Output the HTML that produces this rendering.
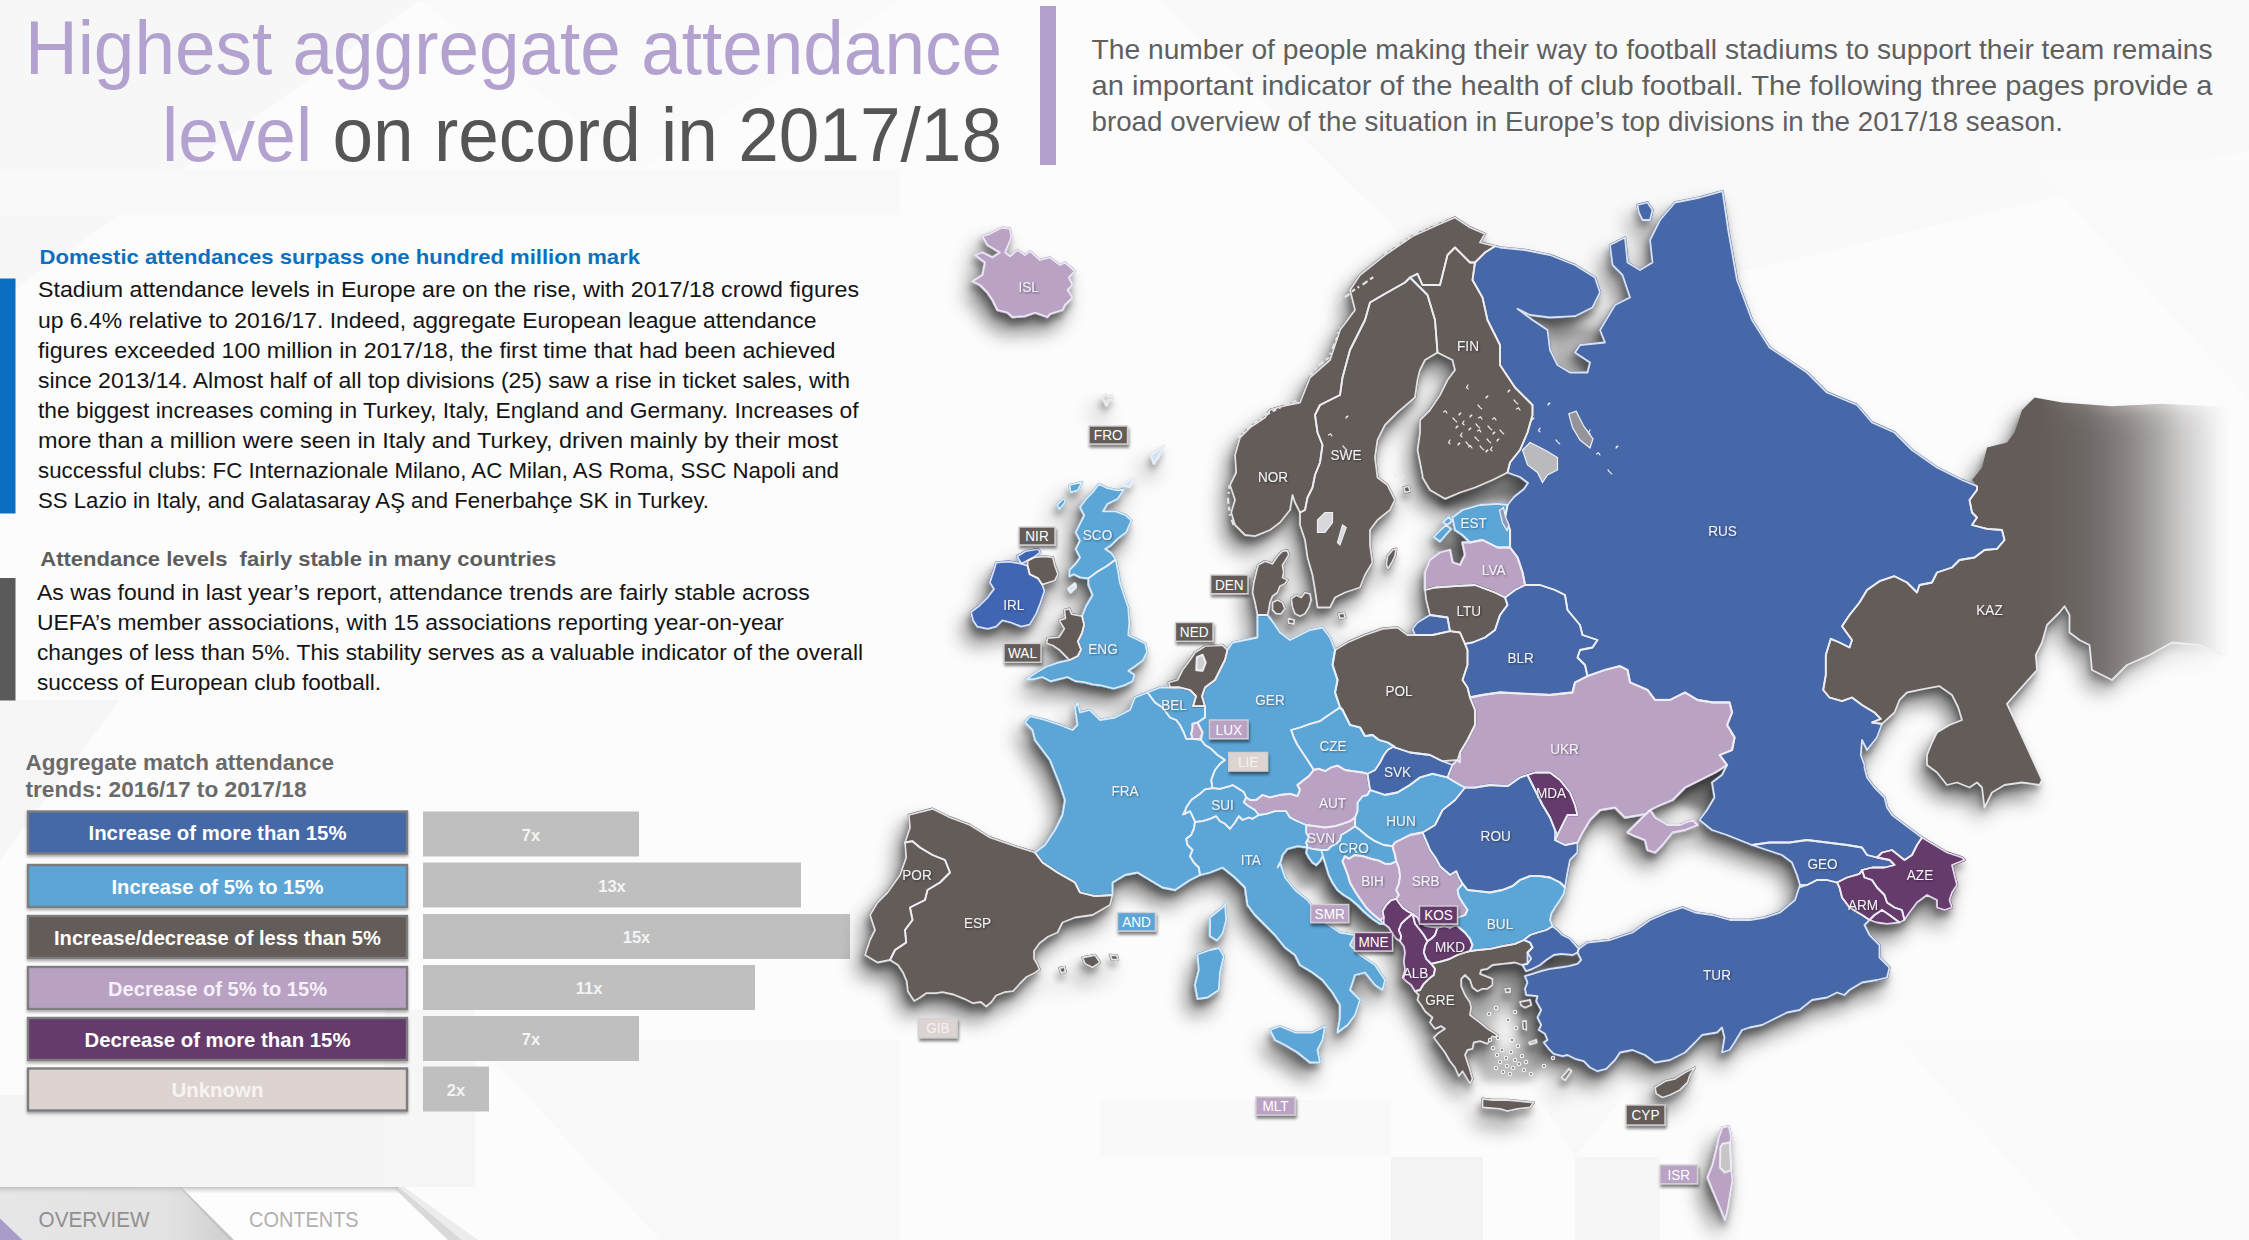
<!DOCTYPE html>
<html lang="en"><head><meta charset="utf-8">
<title>Highest aggregate attendance level on record in 2017/18</title>
<style>
html,body{margin:0;padding:0;background:#fcfcfc;}
body{width:2249px;height:1240px;overflow:hidden;}
svg{display:block;font-family:'Liberation Sans', 'DejaVu Sans', sans-serif;}
text{white-space:pre;}
</style></head><body>
<svg width="2249" height="1240" viewBox="0 0 2249 1240">
<defs>
<filter id="mapshadow" x="-5%" y="-5%" width="110%" height="112%">
  <feGaussianBlur in="SourceAlpha" stdDeviation="10"/>
  <feOffset dx="-8" dy="15"/>
  <feComponentTransfer result="wide"><feFuncA type="linear" slope="0.5"/></feComponentTransfer>
  <feGaussianBlur in="SourceAlpha" stdDeviation="3.5"/>
  <feOffset dx="-2" dy="6"/>
  <feComponentTransfer result="tight"><feFuncA type="linear" slope="0.36"/></feComponentTransfer>
  <feMerge><feMergeNode in="wide"/><feMergeNode in="tight"/><feMergeNode in="SourceGraphic"/></feMerge>
</filter>
<filter id="seablur" x="-30%" y="-30%" width="160%" height="160%"><feGaussianBlur stdDeviation="5"/></filter>
<filter id="seablur2" x="-60%" y="-60%" width="220%" height="220%"><feGaussianBlur stdDeviation="7"/></filter>
<filter id="lblshadow" x="-20%" y="-30%" width="140%" height="180%">
  <feGaussianBlur in="SourceAlpha" stdDeviation="1.6"/>
  <feOffset dx="1" dy="2.5"/>
  <feComponentTransfer><feFuncA type="linear" slope="0.5"/></feComponentTransfer>
  <feMerge><feMergeNode/><feMergeNode in="SourceGraphic"/></feMerge>
</filter>
<filter id="boxshadow" x="-5%" y="-20%" width="110%" height="150%">
  <feGaussianBlur in="SourceAlpha" stdDeviation="1.5"/>
  <feOffset dx="0" dy="1.5"/>
  <feComponentTransfer><feFuncA type="linear" slope="0.35"/></feComponentTransfer>
  <feMerge><feMergeNode/><feMergeNode in="SourceGraphic"/></feMerge>
</filter>
<filter id="txtsh" x="-10%" y="-30%" width="120%" height="170%">
  <feGaussianBlur in="SourceAlpha" stdDeviation="0.9"/>
  <feOffset dx="0.8" dy="1.2"/>
  <feComponentTransfer><feFuncA type="linear" slope="0.45"/></feComponentTransfer>
  <feMerge><feMergeNode/><feMergeNode in="SourceGraphic"/></feMerge>
</filter>
<linearGradient id="kazfade" gradientUnits="userSpaceOnUse" x1="2040" y1="0" x2="2228" y2="0">
  <stop offset="0" stop-color="#645c58" stop-opacity="1"/>
  <stop offset="0.25" stop-color="#696260" stop-opacity="0.84"/>
  <stop offset="0.5" stop-color="#706966" stop-opacity="0.52"/>
  <stop offset="0.75" stop-color="#76706d" stop-opacity="0.2"/>
  <stop offset="1" stop-color="#7a7370" stop-opacity="0"/>
</linearGradient>
<linearGradient id="tab1" x1="0" y1="0" x2="1" y2="0">
  <stop offset="0" stop-color="#e6e6e6"/><stop offset="0.72" stop-color="#e3e3e3"/><stop offset="1" stop-color="#cfcfcf"/>
</linearGradient>
<linearGradient id="tabtop" x1="0" y1="0" x2="0" y2="1">
  <stop offset="0" stop-color="#bdbdbd" stop-opacity="0.9"/><stop offset="1" stop-color="#d8d8d8" stop-opacity="0"/>
</linearGradient>
</defs>

<rect width="2249" height="1240" fill="#fcfcfc"/>
<polygon points="0,0 420,0 0,300" fill="#f7f7f8"/>
<polygon points="420,0 900,0 640,170" fill="#fafafb"/>
<polygon points="1160,0 2249,0 2249,150 1500,330" fill="#f9f9fa"/>
<polygon points="0,170 900,170 900,215 0,215" fill="#f9f9fa"/>
<polygon points="0,1095 385,1095 470,1187 0,1187" fill="#f4f4f5"/>
<polygon points="385,1010 475,1010 475,1187 385,1187" fill="#f6f6f7"/>
<polygon points="0,700 120,700 0,860" fill="#f6f6f7"/>
<polygon points="475,1040 900,1040 900,1240 660,1240" fill="#f9f9fa"/>
<polygon points="1391,1157 1483,1157 1483,1240 1391,1240" fill="#f3f3f4"/>
<polygon points="1575,1157 1660,1157 1660,1240 1575,1240" fill="#f6f6f7"/>
<polygon points="1100,1100 1391,1100 1391,1157 1100,1157" fill="#f9f9fa"/>
<polygon points="1900,1040 2249,1040 2249,1240 2080,1240" fill="#fafafb"/>
<polygon points="1480,1000 1700,1000 1575,1157" fill="#f9f9fa"/>
<polygon points="2030,160 2249,160 2249,400" fill="#fafafb"/>
<text x="1002" y="74" font-size="76.5" text-anchor="end" textLength="977" lengthAdjust="spacingAndGlyphs" fill="#b3a2cf">Highest aggregate attendance</text>
<text x="1002" y="161" font-size="76.5" text-anchor="end" textLength="840" lengthAdjust="spacingAndGlyphs" fill="#555555"><tspan fill="#b3a2cf">level</tspan> on record in 2017/18</text>
<rect x="1040" y="6" width="16" height="159" fill="#b29fcc"/>
<text x="1091.5" y="58.8" font-size="27.5" fill="#5f5f5f" font-weight="normal" text-anchor="start" textLength="1121.0" lengthAdjust="spacingAndGlyphs">The number of people making their way to football stadiums to support their team remains</text>
<text x="1091.5" y="95.0" font-size="27.5" fill="#5f5f5f" font-weight="normal" text-anchor="start" textLength="1121.0" lengthAdjust="spacingAndGlyphs">an important indicator of the health of club football. The following three pages provide a</text>
<text x="1091.5" y="131.2" font-size="27.5" fill="#5f5f5f" font-weight="normal" text-anchor="start" textLength="971.5" lengthAdjust="spacingAndGlyphs">broad overview of the situation in Europe’s top divisions in the 2017/18 season.</text>
<rect x="0" y="278.5" width="15.5" height="235" fill="#0a6fc0"/>
<rect x="0" y="578" width="15.5" height="122.5" fill="#5a5a5a"/>
<text x="39.5" y="263.5" font-size="20.5" fill="#0b70bf" font-weight="bold" text-anchor="start" textLength="600.5" lengthAdjust="spacingAndGlyphs">Domestic attendances surpass one hundred million mark</text>
<text x="38.0" y="297.4" font-size="21.8" fill="#141414" font-weight="normal" text-anchor="start" textLength="821.0" lengthAdjust="spacingAndGlyphs">Stadium attendance levels in Europe are on the rise, with 2017/18 crowd figures</text>
<text x="38.0" y="327.6" font-size="21.8" fill="#141414" font-weight="normal" text-anchor="start" textLength="778.5" lengthAdjust="spacingAndGlyphs">up 6.4% relative to 2016/17. Indeed, aggregate European league attendance</text>
<text x="38.0" y="357.6" font-size="21.8" fill="#141414" font-weight="normal" text-anchor="start" textLength="797.5" lengthAdjust="spacingAndGlyphs">figures exceeded 100 million in 2017/18, the first time that had been achieved</text>
<text x="38.0" y="387.7" font-size="21.8" fill="#141414" font-weight="normal" text-anchor="start" textLength="812.0" lengthAdjust="spacingAndGlyphs">since 2013/14. Almost half of all top divisions (25) saw a rise in ticket sales, with</text>
<text x="38.0" y="417.7" font-size="21.8" fill="#141414" font-weight="normal" text-anchor="start" textLength="820.5" lengthAdjust="spacingAndGlyphs">the biggest increases coming in Turkey, Italy, England and Germany. Increases of</text>
<text x="38.0" y="447.8" font-size="21.8" fill="#141414" font-weight="normal" text-anchor="start" textLength="800.0" lengthAdjust="spacingAndGlyphs">more than a million were seen in Italy and Turkey, driven mainly by their most</text>
<text x="38.0" y="477.8" font-size="21.8" fill="#141414" font-weight="normal" text-anchor="start" textLength="801.0" lengthAdjust="spacingAndGlyphs">successful clubs: FC Internazionale Milano, AC Milan, AS Roma, SSC Napoli and</text>
<text x="38.0" y="507.9" font-size="21.8" fill="#141414" font-weight="normal" text-anchor="start" textLength="671.0" lengthAdjust="spacingAndGlyphs">SS Lazio in Italy, and Galatasaray AŞ and Fenerbahçe SK in Turkey.</text>
<text x="40.3" y="566.0" font-size="20.5" fill="#5d5d5d" font-weight="bold" text-anchor="start" textLength="516.0" lengthAdjust="spacingAndGlyphs">Attendance levels  fairly stable in many countries</text>
<text x="37.0" y="599.8" font-size="21.8" fill="#141414" font-weight="normal" text-anchor="start" textLength="772.7" lengthAdjust="spacingAndGlyphs">As was found in last year’s report, attendance trends are fairly stable across</text>
<text x="37.0" y="629.8" font-size="21.8" fill="#141414" font-weight="normal" text-anchor="start" textLength="747.0" lengthAdjust="spacingAndGlyphs">UEFA’s member associations, with 15 associations reporting year-on-year</text>
<text x="37.0" y="659.9" font-size="21.8" fill="#141414" font-weight="normal" text-anchor="start" textLength="826.0" lengthAdjust="spacingAndGlyphs">changes of less than 5%. This stability serves as a valuable indicator of the overall</text>
<text x="37.0" y="689.9" font-size="21.8" fill="#141414" font-weight="normal" text-anchor="start" textLength="344.0" lengthAdjust="spacingAndGlyphs">success of European club football.</text>
<text x="25.5" y="769.9" font-size="22.5" fill="#6a6a6a" font-weight="bold" text-anchor="start" textLength="308.5" lengthAdjust="spacingAndGlyphs">Aggregate match attendance</text>
<text x="25.5" y="796.6" font-size="22.5" fill="#6a6a6a" font-weight="bold" text-anchor="start" textLength="281.0" lengthAdjust="spacingAndGlyphs">trends: 2016/17 to 2017/18</text>
<g filter="url(#boxshadow)">
<rect x="28" y="811.5" width="379" height="42" fill="#4567a7" stroke="#7d7d7d" stroke-width="2.4"/>
<rect x="28" y="865" width="379" height="42" fill="#5ba5d6" stroke="#7d7d7d" stroke-width="2.4"/>
<rect x="28" y="916" width="379" height="42" fill="#645c58" stroke="#7d7d7d" stroke-width="2.4"/>
<rect x="28" y="967" width="379" height="42" fill="#b9a1c4" stroke="#7d7d7d" stroke-width="2.4"/>
<rect x="28" y="1018" width="379" height="42" fill="#653a6c" stroke="#7d7d7d" stroke-width="2.4"/>
<rect x="28" y="1068.5" width="379" height="42" fill="#ddd4d2" stroke="#7d7d7d" stroke-width="2.4"/>
</g>
<text x="217.5" y="840.0" font-size="20.5" fill="#ffffff" font-weight="bold" text-anchor="middle" textLength="258.0" lengthAdjust="spacingAndGlyphs">Increase of more than 15%</text>
<text x="217.5" y="893.5" font-size="20.5" fill="#ffffff" font-weight="bold" text-anchor="middle" textLength="212.0" lengthAdjust="spacingAndGlyphs">Increase of 5% to 15%</text>
<text x="217.5" y="944.5" font-size="20.5" fill="#ffffff" font-weight="bold" text-anchor="middle" textLength="327.0" lengthAdjust="spacingAndGlyphs">Increase/decrease of less than 5%</text>
<text x="217.5" y="995.5" font-size="20.5" fill="#f6f0f8" font-weight="bold" text-anchor="middle" textLength="219.0" lengthAdjust="spacingAndGlyphs">Decrease of 5% to 15%</text>
<text x="217.5" y="1046.5" font-size="20.5" fill="#ffffff" font-weight="bold" text-anchor="middle" textLength="266.0" lengthAdjust="spacingAndGlyphs">Decrease of more than 15%</text>
<text x="217.5" y="1097.0" font-size="20.5" fill="#f7f3f2" font-weight="bold" text-anchor="middle" textLength="92.0" lengthAdjust="spacingAndGlyphs">Unknown</text>
<rect x="423" y="811.5" width="216" height="45" fill="#bfbfbf"/>
<text x="531.0" y="840.5" font-size="16.5" fill="#f4f4f4" font-weight="bold" text-anchor="middle">7x</text>
<rect x="423" y="862.5" width="378" height="45" fill="#bfbfbf"/>
<text x="612.0" y="891.5" font-size="16.5" fill="#f4f4f4" font-weight="bold" text-anchor="middle">13x</text>
<rect x="423" y="914" width="427" height="45" fill="#bfbfbf"/>
<text x="636.5" y="943.0" font-size="16.5" fill="#f4f4f4" font-weight="bold" text-anchor="middle">15x</text>
<rect x="423" y="965" width="332" height="45" fill="#bfbfbf"/>
<text x="589.0" y="994.0" font-size="16.5" fill="#f4f4f4" font-weight="bold" text-anchor="middle">11x</text>
<rect x="423" y="1016" width="216" height="45" fill="#bfbfbf"/>
<text x="531.0" y="1045.0" font-size="16.5" fill="#f4f4f4" font-weight="bold" text-anchor="middle">7x</text>
<rect x="423" y="1066.5" width="66" height="45" fill="#bfbfbf"/>
<text x="456.0" y="1095.5" font-size="16.5" fill="#f4f4f4" font-weight="bold" text-anchor="middle">2x</text>
<polygon points="181,1187 393,1187 448,1240 232,1240" fill="#fdfdfd"/>
<polygon points="393,1187 399,1187 462,1240 448,1240" fill="#d9d9d9"/>
<polygon points="399,1187 404,1187 478,1240 462,1240" fill="#ececec"/>
<polygon points="0,1187 179,1187 229,1240 0,1240" fill="url(#tab1)"/>
<polygon points="179,1187 181,1187 234,1240 229,1240" fill="#c4c4c4"/>
<rect x="0" y="1187" width="398" height="7" fill="url(#tabtop)"/>
<polygon points="0,1218.5 22.5,1240 0,1240" fill="#a99cc8"/>
<text x="38.6" y="1226.7" font-size="22" fill="#909090" font-weight="normal" text-anchor="start" textLength="111.0" lengthAdjust="spacingAndGlyphs">OVERVIEW</text>
<text x="249.0" y="1226.7" font-size="22" fill="#b0b0b0" font-weight="normal" text-anchor="start" textLength="109.6" lengthAdjust="spacingAndGlyphs">CONTENTS</text>
<g filter="url(#seablur)">
<polygon points="1470.0,964.0 1530.0,964.0 1544.0,1000.0 1548.0,1058.0 1530.0,1082.0 1482.0,1082.0 1470.0,1040.0" fill="#a8a8a8" fill-opacity="0.75"/>
<polygon points="1540.0,955.0 1585.0,950.0 1582.0,972.0 1545.0,976.0" fill="#8a8a8a" fill-opacity="0.9"/>
<polygon points="1655.0,772.0 1728.0,762.0 1712.0,815.0 1690.0,808.0 1655.0,795.0" fill="#8a8a8a" fill-opacity="0.85"/>
<polygon points="1435.0,497.0 1527.0,479.0 1524.0,498.0 1445.0,512.0" fill="#8a8a8a" fill-opacity="0.8"/>
<polygon points="1438.0,545.0 1468.0,538.0 1466.0,576.0 1444.0,574.0" fill="#909090" fill-opacity="0.85"/>
<polygon points="1282.0,850.0 1320.0,848.0 1326.0,882.0 1298.0,890.0" fill="#a2a2a2" fill-opacity="0.6"/>
<polygon points="1545.0,320.0 1600.0,330.0 1640.0,290.0 1625.0,345.0 1590.0,372.0 1555.0,372.0" fill="#a0a0a0" fill-opacity="0.7"/>
<polygon points="1328.0,880.0 1352.0,905.0 1384.0,935.0 1374.0,943.0 1342.0,918.0 1320.0,892.0" fill="#a8a8a8" fill-opacity="0.55"/>
</g>
<g filter="url(#seablur2)">
<ellipse cx="1507" cy="1030" rx="13" ry="24" fill="#fbfbfb"/>
</g>
<g id="map" filter="url(#mapshadow)">
<g stroke-linejoin="round">
<polygon points="1485.0,252.5 1495.0,246.2 1500.0,247.5 1525.0,250.0 1550.0,255.0 1575.0,265.0 1595.0,277.5 1600.0,292.5 1592.5,307.5 1575.0,316.2 1550.0,317.5 1530.0,315.0 1517.5,308.8 1532.5,320.0 1547.5,330.0 1550.0,350.0 1557.5,365.0 1570.0,372.5 1587.5,372.5 1590.0,362.5 1575.0,352.5 1580.0,345.0 1605.0,342.5 1600.0,330.0 1615.0,305.0 1630.0,297.5 1622.5,275.0 1612.5,265.0 1610.0,245.0 1625.0,237.5 1627.5,262.5 1640.0,270.0 1652.5,262.5 1650.0,240.0 1660.0,220.0 1675.0,202.5 1700.0,197.5 1722.5,191.2 1728.2,230.0 1737.0,280.0 1752.0,320.0 1769.5,347.5 1807.0,372.5 1827.0,392.5 1857.0,405.0 1872.0,422.5 1894.5,432.5 1912.0,450.0 1937.0,467.5 1962.0,480.0 1977.0,486.2 1977.0,490.0 1969.5,500.0 1972.0,512.5 1977.0,517.5 1972.0,525.0 1987.0,528.8 2002.0,530.0 2004.5,540.0 1997.0,548.8 1984.5,550.0 1974.5,557.5 1959.5,560.0 1952.0,567.5 1937.0,572.5 1932.0,582.5 1919.5,585.0 1917.0,592.5 1907.0,582.5 1894.5,576.2 1879.5,581.2 1867.0,590.0 1859.5,602.5 1849.5,615.0 1842.0,626.2 1852.0,640.0 1849.5,647.5 1839.5,642.5 1830.8,638.8 1825.8,655.0 1825.8,675.0 1823.2,690.0 1829.5,697.5 1842.0,701.2 1852.0,697.5 1862.0,705.0 1874.5,712.5 1880.8,718.8 1872.0,722.5 1882.0,723.8 1877.0,737.5 1867.0,750.0 1862.0,740.0 1860.8,755.0 1864.5,765.0 1864.5,767.5 1867.0,777.5 1874.5,787.5 1884.5,797.5 1887.0,807.5 1892.0,815.0 1902.0,822.5 1912.0,830.0 1922.0,837.5 1917.0,845.0 1912.0,855.0 1904.5,860.0 1892.0,850.0 1882.0,852.5 1877.0,857.5 1867.0,855.0 1862.0,847.5 1847.0,845.0 1827.0,842.5 1807.0,840.0 1789.5,842.5 1769.5,842.5 1752.0,845.0 1739.5,840.0 1727.0,835.0 1712.0,830.0 1699.5,820.0 1707.0,810.0 1714.5,797.5 1712.0,782.5 1722.0,775.0 1727.0,765.0 1719.5,755.0 1732.0,750.0 1734.5,737.5 1727.0,725.0 1732.0,712.5 1729.5,702.5 1712.5,702.5 1697.5,700.0 1685.0,692.5 1670.0,700.0 1655.0,700.0 1647.5,690.0 1630.0,682.5 1627.5,670.0 1620.0,666.2 1605.0,670.0 1587.5,676.2 1585.0,665.0 1577.5,657.5 1580.0,650.0 1592.5,647.5 1597.5,640.0 1582.5,635.0 1580.0,625.0 1567.5,610.0 1565.0,595.0 1555.0,590.0 1540.0,585.0 1525.0,585.0 1522.5,572.5 1517.5,557.5 1510.0,547.5 1510.0,545.0 1510.0,530.0 1505.0,517.5 1507.5,505.0 1514.0,497.0 1524.0,489.0 1528.0,483.0 1520.0,477.0 1507.5,472.5 1510.0,462.5 1520.0,450.0 1527.5,432.5 1532.5,415.0 1532.5,405.0 1515.0,387.5 1500.0,365.0 1500.0,345.0 1487.5,320.0 1482.5,297.5 1472.5,280.0 1475.0,262.5" fill="#4668a8" stroke="#4668a8" stroke-width="2.5"/>
<polygon points="1637.5,205.0 1647.5,202.5 1652.5,210.0 1650.0,220.0 1642.5,220.0 1638.8,212.5" fill="#4668a8" stroke="#4668a8" stroke-width="2.5"/>
<polygon points="1977.0,486.2 1977.0,490.0 1969.5,500.0 1972.0,512.5 1977.0,517.5 1972.0,525.0 1987.0,528.8 2002.0,530.0 2004.5,540.0 1997.0,548.8 1984.5,550.0 1974.5,557.5 1959.5,560.0 1952.0,567.5 1937.0,572.5 1932.0,582.5 1919.5,585.0 1917.0,592.5 1907.0,582.5 1894.5,576.2 1879.5,581.2 1867.0,590.0 1859.5,602.5 1849.5,615.0 1842.0,626.2 1852.0,640.0 1849.5,647.5 1839.5,642.5 1830.8,638.8 1825.8,655.0 1825.8,675.0 1823.2,690.0 1829.5,697.5 1842.0,701.2 1852.0,697.5 1862.0,705.0 1874.5,712.5 1880.8,718.8 1872.0,722.5 1882.0,723.8 1894.5,712.5 1899.5,700.0 1907.0,692.5 1924.5,688.8 1939.5,686.2 1952.0,695.0 1958.2,707.5 1962.0,720.0 1949.5,725.0 1937.0,732.5 1932.0,742.5 1927.0,755.0 1927.0,765.0 1937.0,772.5 1947.0,785.0 1957.0,782.5 1969.5,787.5 1977.0,782.5 1982.0,787.5 1984.5,807.5 1992.0,792.5 2004.5,785.0 2022.0,782.5 2039.5,785.0 2042.0,780.0 2007.0,703.8 2037.0,670.0 2035.8,655.0 2042.0,642.5 2047.0,625.0 2059.5,612.5 2064.5,606.2 2069.5,615.0 2069.5,632.5 2079.5,640.0 2089.5,645.0 2092.0,670.0 2112.0,680.0 2127.0,665.0 2149.5,655.0 2172.0,642.5 2199.5,645.0 2222.0,655.0 2249.0,665.0 2249.0,406.2 2212.0,406.2 2162.0,403.8 2112.0,406.2 2062.0,402.5 2034.5,397.5 2022.0,410.0 2014.5,432.5 2007.0,442.5 1987.0,447.5 1982.0,467.5 1972.0,480.0" fill="url(#kazfade)" stroke="none" stroke-width="2.5"/>
<polygon points="972.5,281.2 982.5,275.0 985.0,262.5 975.0,255.0 982.5,252.5 992.5,257.5 1000.0,252.5 987.5,245.0 982.5,236.2 990.0,233.8 1002.5,227.5 1010.0,228.8 1011.2,237.5 1005.0,252.5 1010.0,256.2 1017.5,250.0 1025.0,255.0 1030.0,251.2 1040.0,260.0 1050.0,257.5 1060.0,265.0 1065.0,262.5 1075.0,271.2 1068.8,277.5 1072.5,285.0 1067.5,290.0 1072.5,297.5 1065.0,305.0 1062.5,310.0 1050.0,313.8 1047.5,317.0 1035.0,312.5 1025.0,316.2 1012.5,317.0 1007.5,312.5 997.5,310.0 992.5,300.0 987.5,292.5 980.0,285.0" fill="#baa2c5" stroke="#baa2c5" stroke-width="2.5"/>
<polygon points="1300.0,512.5 1295.0,502.5 1292.5,495.0 1290.0,510.0 1280.0,522.5 1270.0,530.0 1255.0,536.2 1245.0,535.0 1235.0,525.0 1231.2,512.5 1235.0,500.0 1230.0,485.0 1236.2,472.5 1235.0,455.0 1240.0,437.5 1250.0,427.5 1265.0,417.5 1270.0,410.0 1287.5,405.0 1300.0,402.5 1310.0,377.5 1330.0,360.0 1340.0,330.0 1355.0,310.0 1350.0,290.0 1360.0,275.0 1385.0,255.0 1412.5,236.2 1437.5,225.0 1455.0,217.5 1470.0,227.5 1485.0,233.8 1480.0,242.5 1495.0,246.2 1485.0,252.5 1475.0,262.5 1470.0,262.5 1455.0,247.5 1447.5,255.0 1440.0,285.0 1422.5,285.0 1417.5,273.8 1410.0,277.5 1405.0,282.5 1385.0,293.8 1370.0,302.5 1365.0,320.0 1350.0,350.0 1342.5,377.5 1340.0,395.0 1320.0,405.0 1315.0,415.0 1317.5,432.5 1322.5,445.0 1320.0,462.5 1315.0,475.0 1312.5,487.5 1307.5,497.5 1305.0,510.0" fill="#645c58" stroke="#645c58" stroke-width="2.5"/>
<polygon points="1300.0,512.5 1305.0,510.0 1307.5,497.5 1312.5,487.5 1315.0,475.0 1320.0,462.5 1322.5,445.0 1317.5,432.5 1315.0,415.0 1320.0,405.0 1340.0,395.0 1342.5,377.5 1350.0,350.0 1365.0,320.0 1370.0,302.5 1385.0,293.8 1405.0,282.5 1410.0,277.5 1427.5,295.0 1435.0,320.0 1437.5,352.5 1425.0,360.0 1420.0,370.0 1417.5,380.0 1415.0,397.5 1397.5,412.5 1385.0,425.0 1377.5,440.0 1375.0,457.5 1377.5,477.5 1387.5,485.0 1395.0,500.0 1390.0,510.0 1377.5,520.0 1370.0,530.0 1370.0,545.0 1372.5,562.5 1365.0,575.0 1360.0,587.5 1345.0,592.5 1335.0,597.5 1330.0,607.5 1317.5,607.5 1315.0,590.0 1312.5,575.0 1307.5,557.5 1305.0,540.0 1300.0,525.0" fill="#645c58" stroke="#645c58" stroke-width="2.5"/>
<polygon points="1387.5,556.2 1392.5,550.0 1396.2,548.8 1395.0,556.2 1391.2,563.8 1388.1,568.8 1386.2,565.0" fill="#645c58" stroke="#645c58" stroke-width="2.5"/>
<polygon points="1437.5,352.5 1435.0,320.0 1427.5,295.0 1410.0,277.5 1417.5,273.8 1422.5,285.0 1440.0,285.0 1447.5,255.0 1455.0,247.5 1470.0,262.5 1475.0,262.5 1472.5,280.0 1482.5,297.5 1487.5,320.0 1500.0,345.0 1500.0,365.0 1515.0,387.5 1532.5,405.0 1532.5,415.0 1527.5,432.5 1520.0,450.0 1510.0,462.5 1507.5,472.5 1492.5,480.0 1475.0,487.5 1460.0,492.5 1445.0,498.8 1430.0,490.0 1422.5,477.5 1422.5,475.0 1417.5,450.0 1420.0,432.5 1420.0,420.0 1430.0,410.0 1440.0,395.0 1447.5,380.0 1455.0,370.0 1452.5,360.0" fill="#645c58" stroke="#645c58" stroke-width="2.5"/>
<polygon points="1403.8,487.5 1408.8,486.2 1410.0,491.2 1405.0,492.5" fill="#645c58" stroke="#645c58" stroke-width="2.5"/>
<polygon points="1452.5,517.5 1462.5,510.0 1480.0,505.0 1497.5,503.8 1507.5,505.0 1505.0,517.5 1510.0,530.0 1510.0,545.0 1510.0,547.5 1497.5,547.5 1482.5,540.0 1470.0,542.5 1462.5,535.0 1455.0,530.0" fill="#5ba6d7" stroke="#5ba6d7" stroke-width="2.5"/>
<polygon points="1433.8,537.0 1440.5,530.0 1446.0,525.0 1451.0,529.0 1446.0,534.5 1440.0,541.5" fill="#5ba6d7" stroke="#5ba6d7" stroke-width="2.5"/>
<polygon points="1443.0,522.0 1449.0,517.0 1452.0,521.0 1447.0,525.0" fill="#5ba6d7" stroke="#5ba6d7" stroke-width="2.5"/>
<polygon points="1425.0,572.5 1430.0,560.0 1440.0,552.5 1450.0,550.0 1452.5,562.5 1460.0,565.0 1465.0,555.0 1462.5,542.5 1470.0,542.5 1482.5,540.0 1497.5,547.5 1510.0,547.5 1517.5,557.5 1522.5,572.5 1525.0,585.0 1515.0,590.0 1505.0,597.5 1495.0,592.5 1475.0,585.0 1455.0,586.2 1435.0,587.5 1425.0,590.0" fill="#baa2c5" stroke="#baa2c5" stroke-width="2.5"/>
<polygon points="1425.0,590.0 1435.0,587.5 1455.0,586.2 1475.0,585.0 1495.0,592.5 1505.0,597.5 1507.5,605.0 1500.0,615.0 1495.0,630.0 1485.0,637.5 1472.5,642.5 1465.0,643.8 1460.0,632.5 1450.0,631.2 1447.5,617.5 1430.0,615.0 1426.2,600.0" fill="#645c58" stroke="#645c58" stroke-width="2.5"/>
<polygon points="1412.5,628.8 1417.5,622.5 1430.0,615.0 1447.5,617.5 1450.0,631.2 1432.5,635.0 1415.0,635.0" fill="#4668a8" stroke="#4668a8" stroke-width="2.5"/>
<polygon points="1525.0,585.0 1540.0,585.0 1555.0,590.0 1565.0,595.0 1567.5,610.0 1580.0,625.0 1582.5,635.0 1597.5,640.0 1592.5,647.5 1580.0,650.0 1577.5,657.5 1585.0,665.0 1587.5,676.2 1575.0,682.5 1572.5,692.5 1550.0,695.0 1525.0,693.8 1500.0,692.5 1482.5,695.0 1470.0,697.5 1467.5,687.5 1462.5,680.0 1467.5,665.0 1467.5,650.0 1465.0,643.8 1472.5,642.5 1485.0,637.5 1495.0,630.0 1500.0,615.0 1507.5,605.0 1505.0,597.5 1515.0,590.0" fill="#4668a8" stroke="#4668a8" stroke-width="2.5"/>
<polygon points="1470.0,697.5 1482.5,695.0 1500.0,692.5 1525.0,693.8 1550.0,695.0 1572.5,692.5 1575.0,682.5 1587.5,676.2 1605.0,670.0 1620.0,666.2 1627.5,670.0 1630.0,682.5 1647.5,690.0 1655.0,700.0 1670.0,700.0 1685.0,692.5 1697.5,700.0 1712.5,702.5 1729.5,702.5 1732.0,712.5 1727.0,725.0 1734.5,737.5 1732.0,750.0 1719.5,755.0 1727.0,765.0 1715.0,772.5 1700.0,780.0 1685.0,787.5 1672.5,800.0 1660.0,805.0 1650.0,810.0 1646.2,813.8 1640.0,815.0 1625.0,817.5 1615.0,807.5 1600.0,810.0 1590.0,820.0 1582.5,832.5 1577.5,842.5 1565.0,845.0 1555.0,840.0 1557.5,835.0 1562.5,825.0 1567.5,815.0 1577.5,815.0 1575.0,805.0 1570.0,792.5 1560.0,780.0 1550.0,772.5 1535.0,772.5 1527.5,775.0 1520.0,777.5 1507.5,786.2 1490.0,785.0 1475.0,787.5 1465.0,787.5 1460.0,785.0 1447.5,777.5 1452.5,765.0 1457.5,760.0 1460.0,762.5 1460.0,752.5 1467.5,740.0 1475.0,725.0 1475.0,710.0" fill="#baa2c5" stroke="#baa2c5" stroke-width="2.5"/>
<polygon points="1646.2,813.8 1650.0,810.0 1655.0,817.5 1667.5,825.0 1680.0,825.0 1692.5,820.0 1697.5,825.0 1685.0,830.0 1672.5,832.5 1662.5,845.0 1655.0,852.5 1647.5,850.0 1645.0,840.0 1635.0,836.2 1627.5,832.5 1640.0,820.0" fill="#baa2c5" stroke="#baa2c5" stroke-width="2.5"/>
<polygon points="1527.5,775.0 1535.0,772.5 1550.0,772.5 1560.0,780.0 1570.0,792.5 1575.0,805.0 1577.5,815.0 1567.5,815.0 1562.5,825.0 1557.5,835.0 1555.0,840.0 1555.0,830.0 1550.0,817.5 1542.5,805.0 1535.0,790.0" fill="#653a6c" stroke="#653a6c" stroke-width="2.5"/>
<polygon points="1335.0,650.0 1347.5,642.5 1365.0,635.0 1382.5,628.8 1397.5,627.5 1407.5,635.0 1415.0,635.0 1432.5,635.0 1450.0,631.2 1460.0,632.5 1465.0,643.8 1467.5,650.0 1467.5,665.0 1462.5,680.0 1467.5,687.5 1470.0,697.5 1475.0,710.0 1475.0,725.0 1467.5,740.0 1460.0,752.5 1457.5,760.0 1442.5,761.2 1430.0,755.0 1410.0,752.5 1395.0,747.5 1393.8,746.2 1387.5,742.5 1378.8,740.0 1372.5,735.0 1365.0,736.2 1360.0,727.5 1350.0,725.0 1347.5,720.0 1342.5,710.0 1340.0,707.5 1335.0,692.5 1337.5,680.0 1332.5,665.0" fill="#645c58" stroke="#645c58" stroke-width="2.5"/>
<polygon points="1227.5,650.0 1232.5,642.5 1245.0,640.0 1257.5,637.5 1257.5,615.0 1267.5,615.0 1275.0,625.0 1280.0,632.5 1290.0,640.0 1300.0,635.0 1310.0,630.0 1322.5,627.5 1330.0,637.5 1335.0,650.0 1332.5,665.0 1337.5,680.0 1335.0,692.5 1340.0,707.5 1342.5,710.0 1340.0,707.5 1325.0,717.5 1320.0,721.2 1310.0,723.8 1300.0,727.5 1291.2,730.0 1293.8,737.5 1297.5,745.0 1302.5,752.5 1307.5,760.0 1313.8,770.0 1308.8,776.2 1303.8,780.0 1297.5,785.0 1300.0,790.0 1297.5,796.2 1290.0,793.8 1280.0,795.0 1270.0,797.5 1262.5,795.0 1256.2,800.0 1250.0,800.0 1246.2,797.5 1243.8,791.9 1237.5,788.1 1232.5,785.0 1230.0,786.2 1220.0,788.8 1212.5,788.1 1211.2,780.0 1215.0,770.0 1220.0,763.8 1225.0,760.0 1217.5,755.0 1211.2,748.8 1205.0,745.0 1201.2,740.0 1202.5,732.5 1200.0,727.5 1197.5,722.5 1205.0,717.5 1205.0,706.2 1202.0,696.2 1205.0,687.5 1215.0,680.0 1220.0,670.0 1225.0,660.0" fill="#5ba6d7" stroke="#5ba6d7" stroke-width="2.5"/>
<polygon points="1291.2,730.0 1300.0,727.5 1310.0,723.8 1320.0,721.2 1325.0,717.5 1340.0,707.5 1342.5,710.0 1347.5,720.0 1350.0,725.0 1360.0,727.5 1365.0,736.2 1372.5,735.0 1378.8,740.0 1387.5,742.5 1393.8,746.2 1395.0,747.5 1393.8,746.2 1387.5,750.0 1383.8,755.0 1380.0,762.5 1375.0,770.0 1367.5,773.8 1362.5,772.5 1352.5,771.2 1345.0,770.0 1337.5,765.6 1331.2,767.5 1325.0,771.2 1318.8,768.8 1313.8,770.0 1307.5,760.0 1302.5,752.5 1297.5,745.0 1293.8,737.5" fill="#5ba6d7" stroke="#5ba6d7" stroke-width="2.5"/>
<polygon points="1246.2,797.5 1250.0,800.0 1256.2,800.0 1262.5,795.0 1270.0,797.5 1280.0,795.0 1290.0,793.8 1297.5,796.2 1300.0,790.0 1297.5,785.0 1303.8,780.0 1308.8,776.2 1313.8,770.0 1318.8,768.8 1325.0,771.2 1331.2,767.5 1337.5,765.6 1345.0,770.0 1352.5,771.2 1362.5,772.5 1367.5,773.8 1368.8,782.5 1370.0,790.0 1367.5,795.0 1362.5,796.2 1357.5,802.5 1357.5,811.2 1355.0,817.5 1350.0,821.2 1342.5,823.8 1335.0,826.2 1325.0,827.5 1315.0,826.2 1306.2,825.0 1297.5,821.2 1290.0,817.5 1286.2,811.2 1275.0,811.2 1266.2,813.8 1258.8,815.0 1255.0,810.0 1248.8,806.2 1243.8,802.5" fill="#baa2c5" stroke="#baa2c5" stroke-width="2.5"/>
<polygon points="1183.1,814.4 1186.2,807.5 1191.2,800.0 1200.0,793.8 1205.0,789.4 1212.5,788.1 1220.0,788.8 1230.0,786.2 1232.5,785.0 1237.5,788.1 1243.8,791.9 1246.2,797.5 1243.8,802.5 1248.8,806.2 1255.0,810.0 1258.8,815.0 1252.5,818.8 1248.8,817.5 1242.5,820.0 1238.8,816.2 1235.0,822.5 1230.0,828.8 1225.0,823.8 1220.0,821.2 1216.2,816.2 1210.0,818.8 1202.5,821.2 1195.0,821.9 1192.5,816.2 1190.0,811.2 1185.0,813.8" fill="#5ba6d7" stroke="#5ba6d7" stroke-width="2.5"/>
<polygon points="1395.0,747.5 1410.0,752.5 1430.0,755.0 1442.5,761.2 1452.5,765.0 1447.5,777.5 1432.5,773.8 1420.0,777.5 1410.0,785.0 1397.5,792.5 1385.0,795.0 1370.0,790.0 1368.8,782.5 1367.5,773.8 1375.0,770.0 1380.0,762.5 1383.8,755.0 1387.5,750.0 1393.8,746.2" fill="#4668a8" stroke="#4668a8" stroke-width="2.5"/>
<polygon points="1370.0,790.0 1385.0,795.0 1397.5,792.5 1410.0,785.0 1420.0,777.5 1432.5,773.8 1447.5,777.5 1460.0,785.0 1465.0,787.5 1455.0,800.0 1442.5,810.0 1435.0,825.0 1422.5,832.5 1410.0,835.0 1395.0,842.5 1392.5,846.2 1383.8,845.0 1375.0,841.2 1367.5,836.2 1360.0,830.0 1355.0,826.2 1355.0,817.5 1357.5,811.2 1357.5,802.5 1362.5,796.2 1367.5,795.0" fill="#5ba6d7" stroke="#5ba6d7" stroke-width="2.5"/>
<polygon points="1306.2,825.0 1315.0,826.2 1325.0,827.5 1335.0,826.2 1342.5,823.8 1350.0,821.2 1355.0,817.5 1355.0,826.2 1347.5,831.2 1341.2,835.0 1340.0,840.0 1336.2,843.8 1331.2,846.2 1327.5,850.0 1321.2,850.0 1312.5,848.8 1307.5,847.5 1306.2,842.5 1308.8,837.5 1306.2,832.5" fill="#baa2c5" stroke="#baa2c5" stroke-width="2.5"/>
<polygon points="1355.0,826.2 1360.0,830.0 1367.5,836.2 1375.0,841.2 1383.8,845.0 1392.5,846.2 1395.0,855.0 1396.2,861.2 1391.2,863.8 1385.0,863.8 1378.8,860.6 1371.2,858.8 1362.5,856.2 1355.0,855.0 1348.8,858.8 1345.0,856.2 1342.5,861.2 1345.0,867.5 1347.5,873.8 1350.0,882.5 1355.0,891.2 1360.0,898.8 1366.2,907.5 1372.5,913.8 1380.0,920.0 1383.8,923.8 1380.0,923.8 1372.5,918.8 1365.0,912.5 1357.5,905.0 1350.0,898.8 1343.8,895.0 1337.5,890.0 1332.5,882.5 1328.8,875.0 1326.2,866.2 1323.8,858.8 1321.2,850.0 1325.0,862.5 1322.5,856.2 1320.0,861.2 1316.2,865.0 1312.5,862.5 1308.8,857.5 1306.2,852.5 1307.5,847.5 1312.5,848.8 1321.2,850.0 1327.5,850.0 1331.2,846.2 1336.2,843.8 1340.0,840.0 1341.2,835.0 1347.5,831.2" fill="#5ba6d7" stroke="#5ba6d7" stroke-width="2.5"/>
<polygon points="1342.5,861.2 1345.0,856.2 1348.8,858.8 1355.0,855.0 1362.5,856.2 1371.2,858.8 1378.8,860.6 1385.0,863.8 1391.2,863.8 1396.2,861.2 1398.8,867.5 1400.0,876.2 1398.8,883.8 1396.2,890.0 1398.8,895.0 1396.2,898.8 1391.2,900.0 1386.2,905.0 1382.5,911.2 1383.8,917.5 1380.0,920.0 1372.5,913.8 1366.2,907.5 1360.0,898.8 1355.0,891.2 1350.0,882.5 1347.5,873.8 1345.0,867.5" fill="#baa2c5" stroke="#baa2c5" stroke-width="2.5"/>
<polygon points="1392.5,846.2 1395.0,842.5 1410.0,835.0 1422.5,832.5 1427.5,843.8 1430.0,850.0 1436.2,858.8 1440.0,866.2 1450.0,875.0 1456.2,871.2 1458.8,877.5 1462.5,883.8 1457.5,890.0 1458.8,896.2 1462.5,902.5 1467.5,910.0 1465.0,915.0 1457.5,917.5 1456.2,925.0 1450.0,927.5 1443.8,926.2 1437.5,927.5 1426.2,926.2 1420.0,922.5 1417.5,917.5 1412.5,913.8 1407.5,911.2 1402.5,907.5 1398.8,902.5 1396.2,898.8 1398.8,895.0 1396.2,890.0 1398.8,883.8 1400.0,876.2 1398.8,867.5 1396.2,861.2 1395.0,855.0" fill="#baa2c5" stroke="#baa2c5" stroke-width="2.5"/>
<polygon points="1382.5,911.2 1386.2,905.0 1391.2,900.0 1396.2,898.8 1398.8,902.5 1402.5,907.5 1407.5,911.2 1412.5,913.8 1405.0,920.0 1401.2,923.8 1398.8,930.0 1401.2,936.2 1400.0,941.2 1396.2,938.8 1392.5,933.8 1388.8,927.5 1383.8,923.8 1383.8,917.5" fill="#653a6c" stroke="#653a6c" stroke-width="2.5"/>
<polygon points="1412.5,913.8 1417.5,917.5 1420.0,922.5 1426.2,926.2 1437.5,927.5 1443.8,926.2 1437.5,927.5 1435.0,935.0 1431.2,938.8 1427.5,941.2 1423.8,935.0 1420.0,930.0 1415.0,923.8" fill="#653a6c" stroke="#653a6c" stroke-width="2.5"/>
<polygon points="1400.0,941.2 1401.2,936.2 1398.8,930.0 1401.2,923.8 1405.0,920.0 1412.5,913.8 1415.0,923.8 1420.0,930.0 1423.8,935.0 1427.5,941.2 1425.0,946.2 1423.8,952.5 1426.2,958.8 1431.2,963.8 1435.0,968.8 1433.8,975.0 1428.8,978.8 1423.8,983.8 1420.0,990.0 1415.0,991.2 1411.2,985.0 1406.2,981.2 1402.5,977.5 1405.0,970.0 1403.8,961.2 1405.0,952.5 1403.8,946.2" fill="#653a6c" stroke="#653a6c" stroke-width="2.5"/>
<polygon points="1427.5,941.2 1431.2,938.8 1435.0,935.0 1437.5,927.5 1443.8,926.2 1450.0,927.5 1456.2,925.0 1465.0,932.5 1470.0,938.8 1472.5,945.0 1470.0,951.2 1465.0,952.5 1457.5,955.0 1450.0,958.8 1442.5,961.2 1431.2,963.8 1426.2,958.8 1423.8,952.5 1425.0,946.2" fill="#653a6c" stroke="#653a6c" stroke-width="2.5"/>
<polygon points="1465.0,787.5 1475.0,787.5 1490.0,785.0 1507.5,786.2 1520.0,777.5 1527.5,775.0 1535.0,790.0 1542.5,805.0 1550.0,817.5 1555.0,830.0 1557.5,835.0 1555.0,840.0 1565.0,845.0 1577.5,842.5 1577.5,852.5 1570.0,860.0 1567.5,872.5 1565.0,887.5 1560.0,882.5 1550.0,877.5 1540.0,876.2 1530.0,876.2 1520.0,880.0 1512.5,886.2 1502.5,890.0 1490.0,892.5 1477.5,891.2 1467.5,890.0 1462.5,883.8 1458.8,877.5 1456.2,871.2 1450.0,875.0 1440.0,866.2 1436.2,858.8 1430.0,850.0 1427.5,843.8 1422.5,832.5 1435.0,825.0 1442.5,810.0 1455.0,800.0" fill="#4668a8" stroke="#4668a8" stroke-width="2.5"/>
<polygon points="1462.5,883.8 1467.5,890.0 1477.5,891.2 1490.0,892.5 1502.5,890.0 1512.5,886.2 1520.0,880.0 1530.0,876.2 1540.0,876.2 1550.0,877.5 1560.0,882.5 1565.0,887.5 1563.8,893.8 1560.0,900.0 1555.0,907.5 1551.2,913.8 1550.0,920.0 1552.5,926.2 1546.2,930.0 1537.5,932.5 1530.0,935.0 1523.8,940.0 1515.0,943.8 1502.5,946.2 1490.0,948.8 1477.5,950.0 1470.0,951.2 1472.5,945.0 1470.0,938.8 1465.0,932.5 1456.2,925.0 1450.0,927.5 1456.2,925.0 1457.5,917.5 1465.0,915.0 1467.5,910.0 1462.5,902.5 1458.8,896.2 1457.5,890.0" fill="#5ba6d7" stroke="#5ba6d7" stroke-width="2.5"/>
<polygon points="1431.2,963.8 1442.5,961.2 1450.0,958.8 1457.5,955.0 1465.0,952.5 1470.0,951.2 1477.5,950.0 1490.0,948.8 1502.5,946.2 1515.0,943.8 1523.8,940.0 1530.0,942.5 1532.5,947.5 1527.5,952.5 1531.2,958.8 1527.5,963.8 1522.5,965.0 1515.0,962.5 1502.5,963.8 1492.5,965.0 1487.5,968.8 1481.2,970.0 1480.0,973.8 1492.5,978.8 1492.5,985.0 1487.5,988.8 1482.5,988.8 1477.5,991.2 1472.5,987.5 1470.0,980.0 1465.0,975.0 1461.2,978.8 1461.2,986.2 1465.0,995.0 1470.0,1002.5 1471.2,1007.5 1470.0,1015.0 1480.0,1022.5 1487.5,1028.8 1497.5,1035.0 1495.0,1037.5 1492.5,1036.2 1490.0,1040.0 1487.5,1043.8 1480.0,1041.2 1473.8,1042.5 1472.5,1048.8 1467.5,1050.0 1465.0,1055.0 1467.5,1062.5 1470.0,1070.0 1472.5,1078.8 1470.0,1083.8 1466.2,1077.5 1462.5,1071.2 1458.8,1076.2 1455.0,1067.5 1450.0,1061.2 1445.0,1052.5 1437.5,1042.5 1433.8,1037.5 1437.5,1033.8 1445.0,1028.8 1441.2,1026.2 1435.0,1028.8 1430.0,1022.5 1432.5,1017.5 1425.0,1011.2 1421.2,1005.0 1417.5,1000.0 1418.8,995.0 1415.0,991.2 1420.0,990.0 1423.8,983.8 1428.8,978.8 1433.8,975.0 1435.0,968.8" fill="#645c58" stroke="#645c58" stroke-width="2.5"/>
<polygon points="1482.5,1098.8 1492.5,1100.0 1507.5,1100.0 1520.0,1101.2 1533.8,1102.5 1530.0,1107.5 1517.5,1108.8 1507.5,1111.2 1500.0,1108.8 1482.5,1107.5" fill="#645c58" stroke="#645c58" stroke-width="2.5"/>
<polygon points="1520.0,1001.9 1530.0,1000.0 1531.2,1005.0 1525.0,1007.8 1521.0,1005.2" fill="#645c58" stroke="#645c58" stroke-width="2.5"/>
<polygon points="1522.5,1021.2 1526.2,1021.0 1526.5,1030.0 1523.2,1029.0" fill="#645c58" stroke="#645c58" stroke-width="2.5"/>
<polygon points="1529.0,1042.5 1536.0,1040.0 1536.5,1042.5 1530.0,1044.4" fill="#8f8a88" stroke="#8f8a88" stroke-width="2.5"/>
<polygon points="1505.0,988.8 1510.0,988.1 1510.2,992.0 1505.8,992.5" fill="#645c58" stroke="#645c58" stroke-width="2.5"/>
<polygon points="1561.2,1077.8 1568.8,1069.0 1571.5,1071.2 1565.2,1080.2" fill="#8f8a88" stroke="#8f8a88" stroke-width="2.5"/>
<polygon points="1523.8,940.0 1530.0,935.0 1537.5,932.5 1546.2,930.0 1552.5,926.2 1557.5,930.0 1562.5,935.0 1570.0,938.8 1578.8,948.8 1577.5,952.5 1572.5,955.0 1561.2,953.8 1553.8,955.0 1546.2,960.0 1540.0,965.0 1532.5,968.8 1526.2,971.2 1522.5,965.0 1527.5,963.8 1527.5,952.5 1532.5,947.5 1530.0,942.5" fill="#4668a8" stroke="#4668a8" stroke-width="2.5"/>
<polygon points="1578.8,948.8 1587.5,942.5 1610.0,940.0 1632.5,932.5 1650.0,920.0 1667.5,912.5 1682.5,907.5 1695.0,912.5 1712.5,915.0 1730.0,920.0 1750.0,920.0 1765.0,917.5 1780.0,912.5 1795.0,900.0 1800.0,885.0 1799.5,887.5 1807.0,885.0 1817.0,880.0 1827.0,880.0 1837.0,882.5 1839.5,887.5 1842.0,897.5 1849.5,907.5 1862.0,915.0 1869.5,920.0 1864.5,925.0 1869.5,935.0 1879.5,945.0 1879.5,957.5 1889.5,967.5 1887.0,977.5 1877.0,980.0 1862.0,982.5 1849.5,990.0 1844.5,995.0 1837.0,992.5 1827.0,997.5 1812.0,1000.0 1799.5,1010.0 1787.0,1012.5 1777.0,1017.5 1762.0,1025.0 1749.5,1027.5 1742.0,1030.0 1734.5,1042.5 1729.5,1050.0 1722.0,1052.5 1724.5,1037.5 1722.0,1027.5 1717.0,1032.5 1702.0,1035.0 1695.0,1042.5 1685.0,1052.5 1670.0,1060.0 1655.0,1062.5 1645.0,1055.0 1632.5,1050.0 1620.0,1052.5 1615.0,1060.0 1606.2,1068.8 1597.5,1071.2 1590.0,1067.5 1583.8,1061.2 1575.0,1058.8 1567.5,1055.0 1562.5,1056.2 1553.8,1053.8 1548.8,1048.8 1543.8,1042.5 1547.5,1040.0 1545.0,1033.8 1538.8,1030.0 1541.2,1025.0 1537.5,1017.5 1541.2,1010.0 1536.2,1001.2 1537.5,996.2 1526.2,995.0 1525.0,988.8 1527.5,982.5 1525.0,976.2 1532.5,973.8 1541.2,971.2 1550.0,968.8 1560.0,967.5 1568.8,966.2 1577.5,963.8 1581.2,960.0 1577.5,952.5" fill="#4668a8" stroke="#4668a8" stroke-width="2.5"/>
<polygon points="1752.0,845.0 1769.5,842.5 1789.5,842.5 1807.0,840.0 1827.0,842.5 1847.0,845.0 1862.0,847.5 1867.0,855.0 1877.0,857.5 1889.5,860.0 1894.5,865.0 1884.5,867.5 1872.0,867.5 1862.0,870.0 1859.5,873.8 1847.0,877.5 1837.0,882.5 1827.0,880.0 1817.0,880.0 1807.0,885.0 1800.0,885.0 1797.0,875.0 1792.0,862.5 1782.0,855.0 1767.0,850.0" fill="#4668a8" stroke="#4668a8" stroke-width="2.5"/>
<polygon points="1877.0,857.5 1882.0,852.5 1892.0,850.0 1904.5,860.0 1912.0,855.0 1917.0,845.0 1922.0,837.5 1934.5,845.0 1947.0,852.5 1962.0,857.5 1964.5,860.0 1952.0,865.0 1954.5,875.0 1957.0,885.0 1952.0,892.5 1949.5,900.0 1952.0,907.5 1944.5,910.0 1937.0,907.5 1937.0,900.0 1927.0,895.0 1917.0,902.5 1909.5,912.5 1904.5,920.0 1902.0,910.0 1894.5,907.5 1887.0,902.5 1884.5,895.0 1877.0,887.5 1872.0,880.0 1864.5,877.5 1862.0,870.0 1872.0,867.5 1884.5,867.5 1894.5,865.0 1889.5,860.0" fill="#653a6c" stroke="#653a6c" stroke-width="2.5"/>
<polygon points="1869.5,920.0 1874.5,915.0 1882.0,910.0 1889.5,915.0 1899.5,922.5 1887.0,923.8 1877.0,922.5" fill="#653a6c" stroke="#653a6c" stroke-width="2.5"/>
<polygon points="1837.0,882.5 1847.0,877.5 1859.5,873.8 1862.0,870.0 1864.5,877.5 1872.0,880.0 1877.0,887.5 1884.5,895.0 1887.0,902.5 1894.5,907.5 1902.0,910.0 1904.5,920.0 1899.5,922.5 1889.5,915.0 1882.0,910.0 1874.5,915.0 1869.5,920.0 1862.0,915.0 1849.5,907.5 1842.0,897.5 1839.5,887.5" fill="#653a6c" stroke="#653a6c" stroke-width="2.5"/>
<polygon points="1655.0,1087.5 1665.0,1081.2 1675.0,1078.8 1685.0,1072.5 1695.0,1067.5 1690.0,1075.0 1687.5,1082.5 1680.0,1090.0 1670.0,1095.0 1662.5,1097.5 1656.2,1093.8" fill="#645c58" stroke="#645c58" stroke-width="2.5"/>
<polygon points="1722.5,1127.5 1728.8,1126.2 1731.2,1137.5 1730.0,1142.5 1731.2,1170.0 1732.5,1180.0 1730.0,1195.0 1727.5,1210.0 1725.0,1220.0 1720.0,1207.5 1712.5,1190.0 1707.5,1177.5 1712.5,1165.0 1716.2,1150.0 1718.8,1137.5" fill="#baa2c5" stroke="#baa2c5" stroke-width="2.5"/>
<polygon points="1722.5,1143.8 1730.0,1142.5 1731.2,1170.0 1725.0,1172.5 1720.0,1167.5 1720.5,1147.5" fill="#c9c5c6" stroke="#c9c5c6" stroke-width="2.5"/>
<polygon points="1147.5,692.5 1135.0,697.5 1130.0,710.0 1115.0,717.5 1100.0,720.0 1090.0,710.0 1080.0,712.5 1077.5,702.5 1075.0,707.5 1077.5,725.0 1072.5,730.0 1060.0,725.0 1045.0,720.0 1030.0,716.2 1025.0,722.5 1032.5,730.0 1035.0,740.0 1042.5,750.0 1050.0,760.0 1055.0,772.5 1060.0,785.0 1065.0,800.0 1062.5,815.0 1055.0,830.0 1045.0,845.0 1035.0,852.5 1042.5,862.5 1057.5,872.5 1075.0,882.5 1080.0,892.5 1095.0,896.2 1112.5,895.0 1112.5,882.5 1125.0,875.0 1137.5,872.5 1150.0,880.0 1162.5,887.5 1175.0,890.0 1190.0,880.0 1200.0,875.0 1198.8,867.5 1193.8,862.5 1190.0,856.2 1192.5,850.0 1187.5,845.0 1186.2,838.8 1191.2,835.0 1193.8,828.8 1195.0,821.9 1192.5,816.2 1190.0,811.2 1185.0,813.8 1183.1,814.4 1185.0,813.8 1186.2,807.5 1191.2,800.0 1200.0,793.8 1205.0,789.4 1212.5,788.1 1211.2,780.0 1215.0,770.0 1220.0,763.8 1225.0,760.0 1217.5,755.0 1211.2,748.8 1205.0,745.0 1201.2,740.0 1192.5,738.8 1186.2,738.8 1183.8,732.5 1180.0,725.0 1176.2,720.0 1170.0,717.5 1162.5,707.5 1155.0,702.5" fill="#5ba6d7" stroke="#5ba6d7" stroke-width="2.5"/>
<polygon points="1210.0,917.5 1222.5,907.5 1225.0,903.8 1226.2,920.0 1222.5,933.8 1217.0,940.5 1210.0,936.2" fill="#5ba6d7" stroke="#5ba6d7" stroke-width="2.5"/>
<polygon points="1147.5,692.5 1160.0,687.5 1170.0,687.5 1180.0,687.5 1190.0,690.0 1196.0,696.2 1193.0,706.2 1205.0,706.2 1205.0,717.5 1197.5,722.5 1192.5,723.8 1192.5,728.8 1191.2,733.8 1192.5,738.8 1186.2,738.8 1183.8,732.5 1180.0,725.0 1176.2,720.0 1170.0,717.5 1162.5,707.5 1155.0,702.5" fill="#5ba6d7" stroke="#5ba6d7" stroke-width="2.5"/>
<polygon points="1192.5,723.8 1197.5,722.5 1200.0,727.5 1202.5,732.5 1200.0,738.8 1192.5,738.8 1191.2,733.8 1192.5,728.8" fill="#baa2c5" stroke="#baa2c5" stroke-width="2.5"/>
<polygon points="1195.0,652.5 1205.0,646.2 1222.5,645.0 1227.5,650.0 1225.0,660.0 1220.0,670.0 1215.0,680.0 1205.0,687.5 1202.0,696.2 1205.0,706.2 1193.0,706.2 1196.0,696.2 1190.0,690.0 1180.0,687.5 1170.0,687.5 1168.8,682.5 1177.5,680.0 1182.5,670.0 1190.0,660.0" fill="#645c58" stroke="#645c58" stroke-width="2.5"/>
<polygon points="1197.0,657.5 1202.5,655.0 1205.5,662.5 1202.5,670.5 1196.5,670.0" fill="#cfcdcd" stroke="#cfcdcd" stroke-width="2.5"/>
<polygon points="1257.5,615.0 1255.0,602.5 1252.5,592.5 1253.8,582.5 1256.2,572.5 1258.1,565.0 1265.0,561.2 1272.5,563.8 1277.5,556.2 1282.5,551.2 1287.5,550.6 1288.8,555.0 1285.0,561.2 1282.5,565.0 1283.8,572.5 1282.5,577.5 1287.5,580.0 1285.0,583.8 1280.0,586.2 1277.5,592.5 1272.5,596.2 1270.0,602.5 1268.8,610.0 1267.5,615.0" fill="#645c58" stroke="#645c58" stroke-width="2.5"/>
<polygon points="1272.5,602.5 1277.5,600.0 1282.5,602.5 1285.0,608.8 1281.2,613.8 1276.2,613.8 1272.5,610.0" fill="#645c58" stroke="#645c58" stroke-width="2.5"/>
<polygon points="1291.2,598.8 1296.2,595.0 1301.2,597.5 1305.0,592.5 1310.0,593.8 1311.2,600.0 1308.8,607.5 1305.0,613.8 1300.0,616.2 1295.0,613.8 1292.5,607.5" fill="#645c58" stroke="#645c58" stroke-width="2.5"/>
<polygon points="1288.2,618.5 1294.0,619.8 1294.0,624.0 1288.5,623.2" fill="#645c58" stroke="#645c58" stroke-width="2.5"/>
<polygon points="1338.5,613.8 1344.0,613.0 1345.2,617.8 1339.8,618.4" fill="#645c58" stroke="#645c58" stroke-width="2.5"/>
<polygon points="1195.0,821.9 1202.5,821.2 1210.0,818.8 1216.2,816.2 1220.0,821.2 1225.0,823.8 1230.0,828.8 1235.0,822.5 1238.8,816.2 1242.5,820.0 1248.8,817.5 1252.5,818.8 1258.8,815.0 1266.2,813.8 1275.0,811.2 1286.2,811.2 1290.0,817.5 1297.5,821.2 1306.2,825.0 1306.2,832.5 1308.8,837.5 1306.2,842.5 1307.5,847.5 1297.5,846.2 1287.5,848.8 1282.5,855.0 1280.0,863.8 1277.5,867.5 1280.0,862.5 1285.0,877.5 1295.0,890.0 1307.5,900.0 1315.0,910.0 1325.0,922.5 1340.0,932.5 1355.0,935.0 1350.0,945.0 1360.0,955.0 1375.0,965.0 1385.0,980.0 1382.5,990.0 1375.0,985.0 1365.0,972.5 1355.0,975.0 1350.0,990.0 1360.0,1000.0 1355.0,1015.0 1347.5,1025.0 1337.5,1032.5 1340.0,1017.5 1340.0,1005.0 1332.5,992.5 1322.5,980.0 1312.5,972.5 1300.0,965.0 1295.0,955.0 1285.0,947.5 1275.0,935.0 1265.0,925.0 1255.0,915.0 1247.5,905.0 1245.0,887.5 1235.0,877.5 1222.5,867.5 1210.0,872.5 1200.0,875.0 1198.8,867.5 1193.8,862.5 1190.0,856.2 1192.5,850.0 1187.5,845.0 1186.2,838.8 1191.2,835.0 1193.8,828.8" fill="#5ba6d7" stroke="#5ba6d7" stroke-width="2.5"/>
<polygon points="1270.0,1030.0 1280.0,1026.2 1295.0,1032.5 1312.5,1032.5 1325.0,1026.2 1322.5,1040.0 1317.5,1050.0 1320.0,1062.5 1310.0,1062.5 1297.5,1052.5 1285.0,1045.0 1275.0,1040.0" fill="#5ba6d7" stroke="#5ba6d7" stroke-width="2.5"/>
<polygon points="1197.5,954.5 1210.0,950.0 1219.0,948.0 1223.8,956.2 1220.0,972.5 1218.8,990.0 1207.5,997.5 1197.5,998.8 1195.0,985.0 1198.8,970.0" fill="#5ba6d7" stroke="#5ba6d7" stroke-width="2.5"/>
<polygon points="908.8,815.0 932.5,808.8 950.0,817.5 970.0,825.0 990.0,837.5 1015.0,846.2 1035.0,852.5 1042.5,862.5 1057.5,872.5 1075.0,882.5 1080.0,892.5 1095.0,896.2 1112.5,895.0 1110.0,905.0 1092.5,915.0 1075.0,917.5 1062.5,922.5 1057.5,932.5 1047.5,937.0 1043.8,940.0 1039.5,943.2 1034.0,951.0 1034.0,958.5 1037.2,964.0 1039.5,969.5 1035.2,972.8 1026.5,977.0 1020.0,983.5 1013.2,991.2 1004.8,992.2 996.0,995.5 991.5,1002.0 986.2,1006.5 980.8,1002.0 973.0,1003.2 964.2,998.8 953.5,994.5 942.5,992.2 936.0,993.2 926.2,993.2 919.8,997.8 914.2,1001.0 907.8,991.2 906.8,981.5 903.2,972.8 898.0,965.0 890.0,960.0 895.0,950.0 906.2,942.5 905.0,930.0 912.5,920.0 910.0,907.5 925.0,900.0 927.5,890.0 940.0,882.5 950.0,872.5 945.0,860.0 932.5,855.0 920.0,847.5 912.5,841.2 905.0,842.5 910.0,827.5" fill="#645c58" stroke="#645c58" stroke-width="2.5"/>
<polygon points="905.0,842.5 912.5,841.2 920.0,847.5 932.5,855.0 945.0,860.0 950.0,872.5 940.0,882.5 927.5,890.0 925.0,900.0 910.0,907.5 912.5,920.0 905.0,930.0 906.2,942.5 895.0,950.0 890.0,960.0 877.5,962.5 865.0,955.0 870.0,940.0 875.0,930.0 870.0,915.0 877.5,902.5 887.5,892.5 900.0,875.0 906.2,857.5" fill="#645c58" stroke="#645c58" stroke-width="2.5"/>
<polygon points="1082.5,957.5 1095.0,955.0 1100.0,962.5 1092.5,967.5 1085.0,963.8" fill="#645c58" stroke="#645c58" stroke-width="2.5"/>
<polygon points="1059.5,968.0 1064.5,967.0 1065.5,972.0 1061.2,973.0" fill="#645c58" stroke="#645c58" stroke-width="2.5"/>
<polygon points="1110.0,955.0 1117.0,955.5 1118.0,960.0 1112.0,959.5" fill="#645c58" stroke="#645c58" stroke-width="2.5"/>
<polygon points="1098.9,484.0 1107.3,488.2 1117.8,490.3 1124.1,489.3 1117.8,498.7 1107.3,504.0 1103.1,511.3 1115.7,511.3 1126.2,515.5 1131.4,520.7 1126.2,532.3 1117.8,538.6 1111.5,544.9 1105.2,549.1 1111.5,553.3 1115.7,559.5 1107.3,565.8 1096.8,572.1 1088.4,578.4 1080.0,577.4 1073.7,574.2 1069.5,576.3 1069.5,570.0 1075.8,563.7 1080.0,557.4 1075.8,549.1 1080.0,540.7 1075.8,532.3 1080.0,523.9 1084.2,515.5 1080.0,507.1 1086.3,498.7 1092.6,492.4" fill="#5ba6d7" stroke="#5ba6d7" stroke-width="2.5"/>
<polygon points="1069.5,485.1 1082.1,481.9 1077.9,490.3 1070.6,492.4" fill="#5ba6d7" stroke="#5ba6d7" stroke-width="2.5"/>
<polygon points="1057.0,505.0 1063.3,498.7 1065.8,501.2 1059.5,509.2" fill="#5ba6d7" stroke="#5ba6d7" stroke-width="2.5"/>
<polygon points="1122.4,485.1 1134.1,477.8 1129.5,486.6" fill="#cfe3f1" stroke="#cfe3f1" stroke-width="2.5"/>
<polygon points="1151.3,455.1 1163.9,445.7 1158.1,457.2 1153.9,463.5" fill="#cfe3f1" stroke="#cfe3f1" stroke-width="2.5"/>
<polygon points="1115.7,559.5 1117.8,570.0 1119.9,582.6 1124.1,595.2 1128.3,607.8 1129.3,622.5 1128.3,635.1 1136.7,639.2 1145.1,643.4 1147.1,651.8 1143.0,660.2 1134.6,666.5 1128.3,670.7 1134.6,674.9 1132.5,681.2 1124.1,685.4 1113.6,688.5 1101.0,685.4 1092.6,684.3 1084.2,682.2 1075.8,681.2 1067.4,677.0 1059.1,679.1 1050.7,681.2 1042.3,677.0 1033.9,679.1 1026.6,679.1 1036.0,672.8 1046.5,666.5 1059.1,662.3 1069.5,660.2 1077.9,656.0 1081.1,649.7 1077.9,641.3 1082.1,633.0 1084.2,624.6 1082.1,616.2 1086.3,605.7 1092.6,595.2 1088.4,584.7 1088.4,578.4 1096.8,572.1 1107.3,565.8" fill="#5ba6d7" stroke="#5ba6d7" stroke-width="2.5"/>
<polygon points="1064.3,609.9 1069.5,608.8 1071.6,614.1 1082.1,616.2 1084.2,624.6 1082.1,633.0 1077.9,641.3 1081.1,649.7 1077.9,656.0 1069.5,660.2 1065.4,656.0 1059.1,649.7 1052.8,645.5 1046.5,643.4 1047.5,638.2 1059.1,637.1 1064.3,628.8 1059.1,620.4 1065.4,618.3" fill="#645c58" stroke="#645c58" stroke-width="2.5"/>
<polygon points="996.1,562.7 1008.7,561.6 1021.3,563.7 1027.6,565.8 1029.7,574.2 1038.1,578.4 1042.3,584.7 1044.4,591.0 1040.2,603.6 1036.0,614.1 1029.7,624.6 1021.3,626.7 1010.8,622.5 1002.4,620.4 996.1,626.7 987.8,628.8 977.3,626.7 973.1,620.4 971.0,612.0 979.4,605.7 987.8,597.3 994.0,588.9 989.8,582.6 994.0,570.0" fill="#3f66b3" stroke="#3f66b3" stroke-width="2.5"/>
<polygon points="1017.1,556.4 1025.5,551.2 1038.1,549.1 1040.2,552.2 1033.9,557.4 1027.6,560.6 1021.3,563.7" fill="#3f66b3" stroke="#3f66b3" stroke-width="2.5"/>
<polygon points="1027.6,565.8 1027.6,560.6 1033.9,557.4 1044.4,556.4 1052.8,557.4 1054.9,565.8 1058.0,574.2 1054.9,580.5 1042.3,584.7 1038.1,578.4 1029.7,574.2" fill="#645c58" stroke="#645c58" stroke-width="2.5"/>
<polygon points="1068.5,588.9 1074.8,583.7 1075.8,586.8 1070.6,592.1" fill="#cfe3f1" stroke="#cfe3f1" stroke-width="2.5"/>
<polygon points="1102.0,398.0 1105.5,394.5 1109.0,397.0 1111.5,395.0 1112.5,398.5 1108.0,400.5 1106.5,405.5 1104.5,401.0" fill="#d9d6d5" stroke="#d9d6d5" stroke-width="2.5"/>
</g>
</g>
<g fill="none" stroke="#eef0f6" stroke-opacity="0.9" stroke-width="1.8" stroke-linejoin="round">
<polygon points="1485.0,252.5 1495.0,246.2 1500.0,247.5 1525.0,250.0 1550.0,255.0 1575.0,265.0 1595.0,277.5 1600.0,292.5 1592.5,307.5 1575.0,316.2 1550.0,317.5 1530.0,315.0 1517.5,308.8 1532.5,320.0 1547.5,330.0 1550.0,350.0 1557.5,365.0 1570.0,372.5 1587.5,372.5 1590.0,362.5 1575.0,352.5 1580.0,345.0 1605.0,342.5 1600.0,330.0 1615.0,305.0 1630.0,297.5 1622.5,275.0 1612.5,265.0 1610.0,245.0 1625.0,237.5 1627.5,262.5 1640.0,270.0 1652.5,262.5 1650.0,240.0 1660.0,220.0 1675.0,202.5 1700.0,197.5 1722.5,191.2 1728.2,230.0 1737.0,280.0 1752.0,320.0 1769.5,347.5 1807.0,372.5 1827.0,392.5 1857.0,405.0 1872.0,422.5 1894.5,432.5 1912.0,450.0 1937.0,467.5 1962.0,480.0 1977.0,486.2 1977.0,490.0 1969.5,500.0 1972.0,512.5 1977.0,517.5 1972.0,525.0 1987.0,528.8 2002.0,530.0 2004.5,540.0 1997.0,548.8 1984.5,550.0 1974.5,557.5 1959.5,560.0 1952.0,567.5 1937.0,572.5 1932.0,582.5 1919.5,585.0 1917.0,592.5 1907.0,582.5 1894.5,576.2 1879.5,581.2 1867.0,590.0 1859.5,602.5 1849.5,615.0 1842.0,626.2 1852.0,640.0 1849.5,647.5 1839.5,642.5 1830.8,638.8 1825.8,655.0 1825.8,675.0 1823.2,690.0 1829.5,697.5 1842.0,701.2 1852.0,697.5 1862.0,705.0 1874.5,712.5 1880.8,718.8 1872.0,722.5 1882.0,723.8 1877.0,737.5 1867.0,750.0 1862.0,740.0 1860.8,755.0 1864.5,765.0 1864.5,767.5 1867.0,777.5 1874.5,787.5 1884.5,797.5 1887.0,807.5 1892.0,815.0 1902.0,822.5 1912.0,830.0 1922.0,837.5 1917.0,845.0 1912.0,855.0 1904.5,860.0 1892.0,850.0 1882.0,852.5 1877.0,857.5 1867.0,855.0 1862.0,847.5 1847.0,845.0 1827.0,842.5 1807.0,840.0 1789.5,842.5 1769.5,842.5 1752.0,845.0 1739.5,840.0 1727.0,835.0 1712.0,830.0 1699.5,820.0 1707.0,810.0 1714.5,797.5 1712.0,782.5 1722.0,775.0 1727.0,765.0 1719.5,755.0 1732.0,750.0 1734.5,737.5 1727.0,725.0 1732.0,712.5 1729.5,702.5 1712.5,702.5 1697.5,700.0 1685.0,692.5 1670.0,700.0 1655.0,700.0 1647.5,690.0 1630.0,682.5 1627.5,670.0 1620.0,666.2 1605.0,670.0 1587.5,676.2 1585.0,665.0 1577.5,657.5 1580.0,650.0 1592.5,647.5 1597.5,640.0 1582.5,635.0 1580.0,625.0 1567.5,610.0 1565.0,595.0 1555.0,590.0 1540.0,585.0 1525.0,585.0 1522.5,572.5 1517.5,557.5 1510.0,547.5 1510.0,545.0 1510.0,530.0 1505.0,517.5 1507.5,505.0 1514.0,497.0 1524.0,489.0 1528.0,483.0 1520.0,477.0 1507.5,472.5 1510.0,462.5 1520.0,450.0 1527.5,432.5 1532.5,415.0 1532.5,405.0 1515.0,387.5 1500.0,365.0 1500.0,345.0 1487.5,320.0 1482.5,297.5 1472.5,280.0 1475.0,262.5"/>
<polygon points="1637.5,205.0 1647.5,202.5 1652.5,210.0 1650.0,220.0 1642.5,220.0 1638.8,212.5"/>
<polygon points="972.5,281.2 982.5,275.0 985.0,262.5 975.0,255.0 982.5,252.5 992.5,257.5 1000.0,252.5 987.5,245.0 982.5,236.2 990.0,233.8 1002.5,227.5 1010.0,228.8 1011.2,237.5 1005.0,252.5 1010.0,256.2 1017.5,250.0 1025.0,255.0 1030.0,251.2 1040.0,260.0 1050.0,257.5 1060.0,265.0 1065.0,262.5 1075.0,271.2 1068.8,277.5 1072.5,285.0 1067.5,290.0 1072.5,297.5 1065.0,305.0 1062.5,310.0 1050.0,313.8 1047.5,317.0 1035.0,312.5 1025.0,316.2 1012.5,317.0 1007.5,312.5 997.5,310.0 992.5,300.0 987.5,292.5 980.0,285.0"/>
<polygon points="1300.0,512.5 1295.0,502.5 1292.5,495.0 1290.0,510.0 1280.0,522.5 1270.0,530.0 1255.0,536.2 1245.0,535.0 1235.0,525.0 1231.2,512.5 1235.0,500.0 1230.0,485.0 1236.2,472.5 1235.0,455.0 1240.0,437.5 1250.0,427.5 1265.0,417.5 1270.0,410.0 1287.5,405.0 1300.0,402.5 1310.0,377.5 1330.0,360.0 1340.0,330.0 1355.0,310.0 1350.0,290.0 1360.0,275.0 1385.0,255.0 1412.5,236.2 1437.5,225.0 1455.0,217.5 1470.0,227.5 1485.0,233.8 1480.0,242.5 1495.0,246.2 1485.0,252.5 1475.0,262.5 1470.0,262.5 1455.0,247.5 1447.5,255.0 1440.0,285.0 1422.5,285.0 1417.5,273.8 1410.0,277.5 1405.0,282.5 1385.0,293.8 1370.0,302.5 1365.0,320.0 1350.0,350.0 1342.5,377.5 1340.0,395.0 1320.0,405.0 1315.0,415.0 1317.5,432.5 1322.5,445.0 1320.0,462.5 1315.0,475.0 1312.5,487.5 1307.5,497.5 1305.0,510.0"/>
<polygon points="1300.0,512.5 1305.0,510.0 1307.5,497.5 1312.5,487.5 1315.0,475.0 1320.0,462.5 1322.5,445.0 1317.5,432.5 1315.0,415.0 1320.0,405.0 1340.0,395.0 1342.5,377.5 1350.0,350.0 1365.0,320.0 1370.0,302.5 1385.0,293.8 1405.0,282.5 1410.0,277.5 1427.5,295.0 1435.0,320.0 1437.5,352.5 1425.0,360.0 1420.0,370.0 1417.5,380.0 1415.0,397.5 1397.5,412.5 1385.0,425.0 1377.5,440.0 1375.0,457.5 1377.5,477.5 1387.5,485.0 1395.0,500.0 1390.0,510.0 1377.5,520.0 1370.0,530.0 1370.0,545.0 1372.5,562.5 1365.0,575.0 1360.0,587.5 1345.0,592.5 1335.0,597.5 1330.0,607.5 1317.5,607.5 1315.0,590.0 1312.5,575.0 1307.5,557.5 1305.0,540.0 1300.0,525.0"/>
<polygon points="1387.5,556.2 1392.5,550.0 1396.2,548.8 1395.0,556.2 1391.2,563.8 1388.1,568.8 1386.2,565.0"/>
<polygon points="1437.5,352.5 1435.0,320.0 1427.5,295.0 1410.0,277.5 1417.5,273.8 1422.5,285.0 1440.0,285.0 1447.5,255.0 1455.0,247.5 1470.0,262.5 1475.0,262.5 1472.5,280.0 1482.5,297.5 1487.5,320.0 1500.0,345.0 1500.0,365.0 1515.0,387.5 1532.5,405.0 1532.5,415.0 1527.5,432.5 1520.0,450.0 1510.0,462.5 1507.5,472.5 1492.5,480.0 1475.0,487.5 1460.0,492.5 1445.0,498.8 1430.0,490.0 1422.5,477.5 1422.5,475.0 1417.5,450.0 1420.0,432.5 1420.0,420.0 1430.0,410.0 1440.0,395.0 1447.5,380.0 1455.0,370.0 1452.5,360.0"/>
<polygon points="1403.8,487.5 1408.8,486.2 1410.0,491.2 1405.0,492.5"/>
<polygon points="1452.5,517.5 1462.5,510.0 1480.0,505.0 1497.5,503.8 1507.5,505.0 1505.0,517.5 1510.0,530.0 1510.0,545.0 1510.0,547.5 1497.5,547.5 1482.5,540.0 1470.0,542.5 1462.5,535.0 1455.0,530.0"/>
<polygon points="1433.8,537.0 1440.5,530.0 1446.0,525.0 1451.0,529.0 1446.0,534.5 1440.0,541.5"/>
<polygon points="1443.0,522.0 1449.0,517.0 1452.0,521.0 1447.0,525.0"/>
<polygon points="1425.0,572.5 1430.0,560.0 1440.0,552.5 1450.0,550.0 1452.5,562.5 1460.0,565.0 1465.0,555.0 1462.5,542.5 1470.0,542.5 1482.5,540.0 1497.5,547.5 1510.0,547.5 1517.5,557.5 1522.5,572.5 1525.0,585.0 1515.0,590.0 1505.0,597.5 1495.0,592.5 1475.0,585.0 1455.0,586.2 1435.0,587.5 1425.0,590.0"/>
<polygon points="1425.0,590.0 1435.0,587.5 1455.0,586.2 1475.0,585.0 1495.0,592.5 1505.0,597.5 1507.5,605.0 1500.0,615.0 1495.0,630.0 1485.0,637.5 1472.5,642.5 1465.0,643.8 1460.0,632.5 1450.0,631.2 1447.5,617.5 1430.0,615.0 1426.2,600.0"/>
<polygon points="1412.5,628.8 1417.5,622.5 1430.0,615.0 1447.5,617.5 1450.0,631.2 1432.5,635.0 1415.0,635.0"/>
<polygon points="1525.0,585.0 1540.0,585.0 1555.0,590.0 1565.0,595.0 1567.5,610.0 1580.0,625.0 1582.5,635.0 1597.5,640.0 1592.5,647.5 1580.0,650.0 1577.5,657.5 1585.0,665.0 1587.5,676.2 1575.0,682.5 1572.5,692.5 1550.0,695.0 1525.0,693.8 1500.0,692.5 1482.5,695.0 1470.0,697.5 1467.5,687.5 1462.5,680.0 1467.5,665.0 1467.5,650.0 1465.0,643.8 1472.5,642.5 1485.0,637.5 1495.0,630.0 1500.0,615.0 1507.5,605.0 1505.0,597.5 1515.0,590.0"/>
<polygon points="1470.0,697.5 1482.5,695.0 1500.0,692.5 1525.0,693.8 1550.0,695.0 1572.5,692.5 1575.0,682.5 1587.5,676.2 1605.0,670.0 1620.0,666.2 1627.5,670.0 1630.0,682.5 1647.5,690.0 1655.0,700.0 1670.0,700.0 1685.0,692.5 1697.5,700.0 1712.5,702.5 1729.5,702.5 1732.0,712.5 1727.0,725.0 1734.5,737.5 1732.0,750.0 1719.5,755.0 1727.0,765.0 1715.0,772.5 1700.0,780.0 1685.0,787.5 1672.5,800.0 1660.0,805.0 1650.0,810.0 1646.2,813.8 1640.0,815.0 1625.0,817.5 1615.0,807.5 1600.0,810.0 1590.0,820.0 1582.5,832.5 1577.5,842.5 1565.0,845.0 1555.0,840.0 1557.5,835.0 1562.5,825.0 1567.5,815.0 1577.5,815.0 1575.0,805.0 1570.0,792.5 1560.0,780.0 1550.0,772.5 1535.0,772.5 1527.5,775.0 1520.0,777.5 1507.5,786.2 1490.0,785.0 1475.0,787.5 1465.0,787.5 1460.0,785.0 1447.5,777.5 1452.5,765.0 1457.5,760.0 1460.0,762.5 1460.0,752.5 1467.5,740.0 1475.0,725.0 1475.0,710.0"/>
<polygon points="1646.2,813.8 1650.0,810.0 1655.0,817.5 1667.5,825.0 1680.0,825.0 1692.5,820.0 1697.5,825.0 1685.0,830.0 1672.5,832.5 1662.5,845.0 1655.0,852.5 1647.5,850.0 1645.0,840.0 1635.0,836.2 1627.5,832.5 1640.0,820.0"/>
<polygon points="1527.5,775.0 1535.0,772.5 1550.0,772.5 1560.0,780.0 1570.0,792.5 1575.0,805.0 1577.5,815.0 1567.5,815.0 1562.5,825.0 1557.5,835.0 1555.0,840.0 1555.0,830.0 1550.0,817.5 1542.5,805.0 1535.0,790.0"/>
<polygon points="1335.0,650.0 1347.5,642.5 1365.0,635.0 1382.5,628.8 1397.5,627.5 1407.5,635.0 1415.0,635.0 1432.5,635.0 1450.0,631.2 1460.0,632.5 1465.0,643.8 1467.5,650.0 1467.5,665.0 1462.5,680.0 1467.5,687.5 1470.0,697.5 1475.0,710.0 1475.0,725.0 1467.5,740.0 1460.0,752.5 1457.5,760.0 1442.5,761.2 1430.0,755.0 1410.0,752.5 1395.0,747.5 1393.8,746.2 1387.5,742.5 1378.8,740.0 1372.5,735.0 1365.0,736.2 1360.0,727.5 1350.0,725.0 1347.5,720.0 1342.5,710.0 1340.0,707.5 1335.0,692.5 1337.5,680.0 1332.5,665.0"/>
<polygon points="1227.5,650.0 1232.5,642.5 1245.0,640.0 1257.5,637.5 1257.5,615.0 1267.5,615.0 1275.0,625.0 1280.0,632.5 1290.0,640.0 1300.0,635.0 1310.0,630.0 1322.5,627.5 1330.0,637.5 1335.0,650.0 1332.5,665.0 1337.5,680.0 1335.0,692.5 1340.0,707.5 1342.5,710.0 1340.0,707.5 1325.0,717.5 1320.0,721.2 1310.0,723.8 1300.0,727.5 1291.2,730.0 1293.8,737.5 1297.5,745.0 1302.5,752.5 1307.5,760.0 1313.8,770.0 1308.8,776.2 1303.8,780.0 1297.5,785.0 1300.0,790.0 1297.5,796.2 1290.0,793.8 1280.0,795.0 1270.0,797.5 1262.5,795.0 1256.2,800.0 1250.0,800.0 1246.2,797.5 1243.8,791.9 1237.5,788.1 1232.5,785.0 1230.0,786.2 1220.0,788.8 1212.5,788.1 1211.2,780.0 1215.0,770.0 1220.0,763.8 1225.0,760.0 1217.5,755.0 1211.2,748.8 1205.0,745.0 1201.2,740.0 1202.5,732.5 1200.0,727.5 1197.5,722.5 1205.0,717.5 1205.0,706.2 1202.0,696.2 1205.0,687.5 1215.0,680.0 1220.0,670.0 1225.0,660.0"/>
<polygon points="1291.2,730.0 1300.0,727.5 1310.0,723.8 1320.0,721.2 1325.0,717.5 1340.0,707.5 1342.5,710.0 1347.5,720.0 1350.0,725.0 1360.0,727.5 1365.0,736.2 1372.5,735.0 1378.8,740.0 1387.5,742.5 1393.8,746.2 1395.0,747.5 1393.8,746.2 1387.5,750.0 1383.8,755.0 1380.0,762.5 1375.0,770.0 1367.5,773.8 1362.5,772.5 1352.5,771.2 1345.0,770.0 1337.5,765.6 1331.2,767.5 1325.0,771.2 1318.8,768.8 1313.8,770.0 1307.5,760.0 1302.5,752.5 1297.5,745.0 1293.8,737.5"/>
<polygon points="1246.2,797.5 1250.0,800.0 1256.2,800.0 1262.5,795.0 1270.0,797.5 1280.0,795.0 1290.0,793.8 1297.5,796.2 1300.0,790.0 1297.5,785.0 1303.8,780.0 1308.8,776.2 1313.8,770.0 1318.8,768.8 1325.0,771.2 1331.2,767.5 1337.5,765.6 1345.0,770.0 1352.5,771.2 1362.5,772.5 1367.5,773.8 1368.8,782.5 1370.0,790.0 1367.5,795.0 1362.5,796.2 1357.5,802.5 1357.5,811.2 1355.0,817.5 1350.0,821.2 1342.5,823.8 1335.0,826.2 1325.0,827.5 1315.0,826.2 1306.2,825.0 1297.5,821.2 1290.0,817.5 1286.2,811.2 1275.0,811.2 1266.2,813.8 1258.8,815.0 1255.0,810.0 1248.8,806.2 1243.8,802.5"/>
<polygon points="1183.1,814.4 1186.2,807.5 1191.2,800.0 1200.0,793.8 1205.0,789.4 1212.5,788.1 1220.0,788.8 1230.0,786.2 1232.5,785.0 1237.5,788.1 1243.8,791.9 1246.2,797.5 1243.8,802.5 1248.8,806.2 1255.0,810.0 1258.8,815.0 1252.5,818.8 1248.8,817.5 1242.5,820.0 1238.8,816.2 1235.0,822.5 1230.0,828.8 1225.0,823.8 1220.0,821.2 1216.2,816.2 1210.0,818.8 1202.5,821.2 1195.0,821.9 1192.5,816.2 1190.0,811.2 1185.0,813.8"/>
<polygon points="1395.0,747.5 1410.0,752.5 1430.0,755.0 1442.5,761.2 1452.5,765.0 1447.5,777.5 1432.5,773.8 1420.0,777.5 1410.0,785.0 1397.5,792.5 1385.0,795.0 1370.0,790.0 1368.8,782.5 1367.5,773.8 1375.0,770.0 1380.0,762.5 1383.8,755.0 1387.5,750.0 1393.8,746.2"/>
<polygon points="1370.0,790.0 1385.0,795.0 1397.5,792.5 1410.0,785.0 1420.0,777.5 1432.5,773.8 1447.5,777.5 1460.0,785.0 1465.0,787.5 1455.0,800.0 1442.5,810.0 1435.0,825.0 1422.5,832.5 1410.0,835.0 1395.0,842.5 1392.5,846.2 1383.8,845.0 1375.0,841.2 1367.5,836.2 1360.0,830.0 1355.0,826.2 1355.0,817.5 1357.5,811.2 1357.5,802.5 1362.5,796.2 1367.5,795.0"/>
<polygon points="1306.2,825.0 1315.0,826.2 1325.0,827.5 1335.0,826.2 1342.5,823.8 1350.0,821.2 1355.0,817.5 1355.0,826.2 1347.5,831.2 1341.2,835.0 1340.0,840.0 1336.2,843.8 1331.2,846.2 1327.5,850.0 1321.2,850.0 1312.5,848.8 1307.5,847.5 1306.2,842.5 1308.8,837.5 1306.2,832.5"/>
<polygon points="1355.0,826.2 1360.0,830.0 1367.5,836.2 1375.0,841.2 1383.8,845.0 1392.5,846.2 1395.0,855.0 1396.2,861.2 1391.2,863.8 1385.0,863.8 1378.8,860.6 1371.2,858.8 1362.5,856.2 1355.0,855.0 1348.8,858.8 1345.0,856.2 1342.5,861.2 1345.0,867.5 1347.5,873.8 1350.0,882.5 1355.0,891.2 1360.0,898.8 1366.2,907.5 1372.5,913.8 1380.0,920.0 1383.8,923.8 1380.0,923.8 1372.5,918.8 1365.0,912.5 1357.5,905.0 1350.0,898.8 1343.8,895.0 1337.5,890.0 1332.5,882.5 1328.8,875.0 1326.2,866.2 1323.8,858.8 1321.2,850.0 1325.0,862.5 1322.5,856.2 1320.0,861.2 1316.2,865.0 1312.5,862.5 1308.8,857.5 1306.2,852.5 1307.5,847.5 1312.5,848.8 1321.2,850.0 1327.5,850.0 1331.2,846.2 1336.2,843.8 1340.0,840.0 1341.2,835.0 1347.5,831.2"/>
<polygon points="1342.5,861.2 1345.0,856.2 1348.8,858.8 1355.0,855.0 1362.5,856.2 1371.2,858.8 1378.8,860.6 1385.0,863.8 1391.2,863.8 1396.2,861.2 1398.8,867.5 1400.0,876.2 1398.8,883.8 1396.2,890.0 1398.8,895.0 1396.2,898.8 1391.2,900.0 1386.2,905.0 1382.5,911.2 1383.8,917.5 1380.0,920.0 1372.5,913.8 1366.2,907.5 1360.0,898.8 1355.0,891.2 1350.0,882.5 1347.5,873.8 1345.0,867.5"/>
<polygon points="1392.5,846.2 1395.0,842.5 1410.0,835.0 1422.5,832.5 1427.5,843.8 1430.0,850.0 1436.2,858.8 1440.0,866.2 1450.0,875.0 1456.2,871.2 1458.8,877.5 1462.5,883.8 1457.5,890.0 1458.8,896.2 1462.5,902.5 1467.5,910.0 1465.0,915.0 1457.5,917.5 1456.2,925.0 1450.0,927.5 1443.8,926.2 1437.5,927.5 1426.2,926.2 1420.0,922.5 1417.5,917.5 1412.5,913.8 1407.5,911.2 1402.5,907.5 1398.8,902.5 1396.2,898.8 1398.8,895.0 1396.2,890.0 1398.8,883.8 1400.0,876.2 1398.8,867.5 1396.2,861.2 1395.0,855.0"/>
<polygon points="1382.5,911.2 1386.2,905.0 1391.2,900.0 1396.2,898.8 1398.8,902.5 1402.5,907.5 1407.5,911.2 1412.5,913.8 1405.0,920.0 1401.2,923.8 1398.8,930.0 1401.2,936.2 1400.0,941.2 1396.2,938.8 1392.5,933.8 1388.8,927.5 1383.8,923.8 1383.8,917.5"/>
<polygon points="1412.5,913.8 1417.5,917.5 1420.0,922.5 1426.2,926.2 1437.5,927.5 1443.8,926.2 1437.5,927.5 1435.0,935.0 1431.2,938.8 1427.5,941.2 1423.8,935.0 1420.0,930.0 1415.0,923.8"/>
<polygon points="1400.0,941.2 1401.2,936.2 1398.8,930.0 1401.2,923.8 1405.0,920.0 1412.5,913.8 1415.0,923.8 1420.0,930.0 1423.8,935.0 1427.5,941.2 1425.0,946.2 1423.8,952.5 1426.2,958.8 1431.2,963.8 1435.0,968.8 1433.8,975.0 1428.8,978.8 1423.8,983.8 1420.0,990.0 1415.0,991.2 1411.2,985.0 1406.2,981.2 1402.5,977.5 1405.0,970.0 1403.8,961.2 1405.0,952.5 1403.8,946.2"/>
<polygon points="1427.5,941.2 1431.2,938.8 1435.0,935.0 1437.5,927.5 1443.8,926.2 1450.0,927.5 1456.2,925.0 1465.0,932.5 1470.0,938.8 1472.5,945.0 1470.0,951.2 1465.0,952.5 1457.5,955.0 1450.0,958.8 1442.5,961.2 1431.2,963.8 1426.2,958.8 1423.8,952.5 1425.0,946.2"/>
<polygon points="1465.0,787.5 1475.0,787.5 1490.0,785.0 1507.5,786.2 1520.0,777.5 1527.5,775.0 1535.0,790.0 1542.5,805.0 1550.0,817.5 1555.0,830.0 1557.5,835.0 1555.0,840.0 1565.0,845.0 1577.5,842.5 1577.5,852.5 1570.0,860.0 1567.5,872.5 1565.0,887.5 1560.0,882.5 1550.0,877.5 1540.0,876.2 1530.0,876.2 1520.0,880.0 1512.5,886.2 1502.5,890.0 1490.0,892.5 1477.5,891.2 1467.5,890.0 1462.5,883.8 1458.8,877.5 1456.2,871.2 1450.0,875.0 1440.0,866.2 1436.2,858.8 1430.0,850.0 1427.5,843.8 1422.5,832.5 1435.0,825.0 1442.5,810.0 1455.0,800.0"/>
<polygon points="1462.5,883.8 1467.5,890.0 1477.5,891.2 1490.0,892.5 1502.5,890.0 1512.5,886.2 1520.0,880.0 1530.0,876.2 1540.0,876.2 1550.0,877.5 1560.0,882.5 1565.0,887.5 1563.8,893.8 1560.0,900.0 1555.0,907.5 1551.2,913.8 1550.0,920.0 1552.5,926.2 1546.2,930.0 1537.5,932.5 1530.0,935.0 1523.8,940.0 1515.0,943.8 1502.5,946.2 1490.0,948.8 1477.5,950.0 1470.0,951.2 1472.5,945.0 1470.0,938.8 1465.0,932.5 1456.2,925.0 1450.0,927.5 1456.2,925.0 1457.5,917.5 1465.0,915.0 1467.5,910.0 1462.5,902.5 1458.8,896.2 1457.5,890.0"/>
<polygon points="1431.2,963.8 1442.5,961.2 1450.0,958.8 1457.5,955.0 1465.0,952.5 1470.0,951.2 1477.5,950.0 1490.0,948.8 1502.5,946.2 1515.0,943.8 1523.8,940.0 1530.0,942.5 1532.5,947.5 1527.5,952.5 1531.2,958.8 1527.5,963.8 1522.5,965.0 1515.0,962.5 1502.5,963.8 1492.5,965.0 1487.5,968.8 1481.2,970.0 1480.0,973.8 1492.5,978.8 1492.5,985.0 1487.5,988.8 1482.5,988.8 1477.5,991.2 1472.5,987.5 1470.0,980.0 1465.0,975.0 1461.2,978.8 1461.2,986.2 1465.0,995.0 1470.0,1002.5 1471.2,1007.5 1470.0,1015.0 1480.0,1022.5 1487.5,1028.8 1497.5,1035.0 1495.0,1037.5 1492.5,1036.2 1490.0,1040.0 1487.5,1043.8 1480.0,1041.2 1473.8,1042.5 1472.5,1048.8 1467.5,1050.0 1465.0,1055.0 1467.5,1062.5 1470.0,1070.0 1472.5,1078.8 1470.0,1083.8 1466.2,1077.5 1462.5,1071.2 1458.8,1076.2 1455.0,1067.5 1450.0,1061.2 1445.0,1052.5 1437.5,1042.5 1433.8,1037.5 1437.5,1033.8 1445.0,1028.8 1441.2,1026.2 1435.0,1028.8 1430.0,1022.5 1432.5,1017.5 1425.0,1011.2 1421.2,1005.0 1417.5,1000.0 1418.8,995.0 1415.0,991.2 1420.0,990.0 1423.8,983.8 1428.8,978.8 1433.8,975.0 1435.0,968.8"/>
<polygon points="1482.5,1098.8 1492.5,1100.0 1507.5,1100.0 1520.0,1101.2 1533.8,1102.5 1530.0,1107.5 1517.5,1108.8 1507.5,1111.2 1500.0,1108.8 1482.5,1107.5"/>
<polygon points="1520.0,1001.9 1530.0,1000.0 1531.2,1005.0 1525.0,1007.8 1521.0,1005.2"/>
<polygon points="1522.5,1021.2 1526.2,1021.0 1526.5,1030.0 1523.2,1029.0"/>
<polygon points="1529.0,1042.5 1536.0,1040.0 1536.5,1042.5 1530.0,1044.4"/>
<polygon points="1505.0,988.8 1510.0,988.1 1510.2,992.0 1505.8,992.5"/>
<polygon points="1561.2,1077.8 1568.8,1069.0 1571.5,1071.2 1565.2,1080.2"/>
<polygon points="1523.8,940.0 1530.0,935.0 1537.5,932.5 1546.2,930.0 1552.5,926.2 1557.5,930.0 1562.5,935.0 1570.0,938.8 1578.8,948.8 1577.5,952.5 1572.5,955.0 1561.2,953.8 1553.8,955.0 1546.2,960.0 1540.0,965.0 1532.5,968.8 1526.2,971.2 1522.5,965.0 1527.5,963.8 1527.5,952.5 1532.5,947.5 1530.0,942.5"/>
<polygon points="1578.8,948.8 1587.5,942.5 1610.0,940.0 1632.5,932.5 1650.0,920.0 1667.5,912.5 1682.5,907.5 1695.0,912.5 1712.5,915.0 1730.0,920.0 1750.0,920.0 1765.0,917.5 1780.0,912.5 1795.0,900.0 1800.0,885.0 1799.5,887.5 1807.0,885.0 1817.0,880.0 1827.0,880.0 1837.0,882.5 1839.5,887.5 1842.0,897.5 1849.5,907.5 1862.0,915.0 1869.5,920.0 1864.5,925.0 1869.5,935.0 1879.5,945.0 1879.5,957.5 1889.5,967.5 1887.0,977.5 1877.0,980.0 1862.0,982.5 1849.5,990.0 1844.5,995.0 1837.0,992.5 1827.0,997.5 1812.0,1000.0 1799.5,1010.0 1787.0,1012.5 1777.0,1017.5 1762.0,1025.0 1749.5,1027.5 1742.0,1030.0 1734.5,1042.5 1729.5,1050.0 1722.0,1052.5 1724.5,1037.5 1722.0,1027.5 1717.0,1032.5 1702.0,1035.0 1695.0,1042.5 1685.0,1052.5 1670.0,1060.0 1655.0,1062.5 1645.0,1055.0 1632.5,1050.0 1620.0,1052.5 1615.0,1060.0 1606.2,1068.8 1597.5,1071.2 1590.0,1067.5 1583.8,1061.2 1575.0,1058.8 1567.5,1055.0 1562.5,1056.2 1553.8,1053.8 1548.8,1048.8 1543.8,1042.5 1547.5,1040.0 1545.0,1033.8 1538.8,1030.0 1541.2,1025.0 1537.5,1017.5 1541.2,1010.0 1536.2,1001.2 1537.5,996.2 1526.2,995.0 1525.0,988.8 1527.5,982.5 1525.0,976.2 1532.5,973.8 1541.2,971.2 1550.0,968.8 1560.0,967.5 1568.8,966.2 1577.5,963.8 1581.2,960.0 1577.5,952.5"/>
<polygon points="1752.0,845.0 1769.5,842.5 1789.5,842.5 1807.0,840.0 1827.0,842.5 1847.0,845.0 1862.0,847.5 1867.0,855.0 1877.0,857.5 1889.5,860.0 1894.5,865.0 1884.5,867.5 1872.0,867.5 1862.0,870.0 1859.5,873.8 1847.0,877.5 1837.0,882.5 1827.0,880.0 1817.0,880.0 1807.0,885.0 1800.0,885.0 1797.0,875.0 1792.0,862.5 1782.0,855.0 1767.0,850.0"/>
<polygon points="1877.0,857.5 1882.0,852.5 1892.0,850.0 1904.5,860.0 1912.0,855.0 1917.0,845.0 1922.0,837.5 1934.5,845.0 1947.0,852.5 1962.0,857.5 1964.5,860.0 1952.0,865.0 1954.5,875.0 1957.0,885.0 1952.0,892.5 1949.5,900.0 1952.0,907.5 1944.5,910.0 1937.0,907.5 1937.0,900.0 1927.0,895.0 1917.0,902.5 1909.5,912.5 1904.5,920.0 1902.0,910.0 1894.5,907.5 1887.0,902.5 1884.5,895.0 1877.0,887.5 1872.0,880.0 1864.5,877.5 1862.0,870.0 1872.0,867.5 1884.5,867.5 1894.5,865.0 1889.5,860.0"/>
<polygon points="1869.5,920.0 1874.5,915.0 1882.0,910.0 1889.5,915.0 1899.5,922.5 1887.0,923.8 1877.0,922.5"/>
<polygon points="1837.0,882.5 1847.0,877.5 1859.5,873.8 1862.0,870.0 1864.5,877.5 1872.0,880.0 1877.0,887.5 1884.5,895.0 1887.0,902.5 1894.5,907.5 1902.0,910.0 1904.5,920.0 1899.5,922.5 1889.5,915.0 1882.0,910.0 1874.5,915.0 1869.5,920.0 1862.0,915.0 1849.5,907.5 1842.0,897.5 1839.5,887.5"/>
<polygon points="1655.0,1087.5 1665.0,1081.2 1675.0,1078.8 1685.0,1072.5 1695.0,1067.5 1690.0,1075.0 1687.5,1082.5 1680.0,1090.0 1670.0,1095.0 1662.5,1097.5 1656.2,1093.8"/>
<polygon points="1722.5,1127.5 1728.8,1126.2 1731.2,1137.5 1730.0,1142.5 1731.2,1170.0 1732.5,1180.0 1730.0,1195.0 1727.5,1210.0 1725.0,1220.0 1720.0,1207.5 1712.5,1190.0 1707.5,1177.5 1712.5,1165.0 1716.2,1150.0 1718.8,1137.5"/>
<polygon points="1722.5,1143.8 1730.0,1142.5 1731.2,1170.0 1725.0,1172.5 1720.0,1167.5 1720.5,1147.5"/>
<polygon points="1147.5,692.5 1135.0,697.5 1130.0,710.0 1115.0,717.5 1100.0,720.0 1090.0,710.0 1080.0,712.5 1077.5,702.5 1075.0,707.5 1077.5,725.0 1072.5,730.0 1060.0,725.0 1045.0,720.0 1030.0,716.2 1025.0,722.5 1032.5,730.0 1035.0,740.0 1042.5,750.0 1050.0,760.0 1055.0,772.5 1060.0,785.0 1065.0,800.0 1062.5,815.0 1055.0,830.0 1045.0,845.0 1035.0,852.5 1042.5,862.5 1057.5,872.5 1075.0,882.5 1080.0,892.5 1095.0,896.2 1112.5,895.0 1112.5,882.5 1125.0,875.0 1137.5,872.5 1150.0,880.0 1162.5,887.5 1175.0,890.0 1190.0,880.0 1200.0,875.0 1198.8,867.5 1193.8,862.5 1190.0,856.2 1192.5,850.0 1187.5,845.0 1186.2,838.8 1191.2,835.0 1193.8,828.8 1195.0,821.9 1192.5,816.2 1190.0,811.2 1185.0,813.8 1183.1,814.4 1185.0,813.8 1186.2,807.5 1191.2,800.0 1200.0,793.8 1205.0,789.4 1212.5,788.1 1211.2,780.0 1215.0,770.0 1220.0,763.8 1225.0,760.0 1217.5,755.0 1211.2,748.8 1205.0,745.0 1201.2,740.0 1192.5,738.8 1186.2,738.8 1183.8,732.5 1180.0,725.0 1176.2,720.0 1170.0,717.5 1162.5,707.5 1155.0,702.5"/>
<polygon points="1210.0,917.5 1222.5,907.5 1225.0,903.8 1226.2,920.0 1222.5,933.8 1217.0,940.5 1210.0,936.2"/>
<polygon points="1147.5,692.5 1160.0,687.5 1170.0,687.5 1180.0,687.5 1190.0,690.0 1196.0,696.2 1193.0,706.2 1205.0,706.2 1205.0,717.5 1197.5,722.5 1192.5,723.8 1192.5,728.8 1191.2,733.8 1192.5,738.8 1186.2,738.8 1183.8,732.5 1180.0,725.0 1176.2,720.0 1170.0,717.5 1162.5,707.5 1155.0,702.5"/>
<polygon points="1192.5,723.8 1197.5,722.5 1200.0,727.5 1202.5,732.5 1200.0,738.8 1192.5,738.8 1191.2,733.8 1192.5,728.8"/>
<polygon points="1195.0,652.5 1205.0,646.2 1222.5,645.0 1227.5,650.0 1225.0,660.0 1220.0,670.0 1215.0,680.0 1205.0,687.5 1202.0,696.2 1205.0,706.2 1193.0,706.2 1196.0,696.2 1190.0,690.0 1180.0,687.5 1170.0,687.5 1168.8,682.5 1177.5,680.0 1182.5,670.0 1190.0,660.0"/>
<polygon points="1197.0,657.5 1202.5,655.0 1205.5,662.5 1202.5,670.5 1196.5,670.0"/>
<polygon points="1257.5,615.0 1255.0,602.5 1252.5,592.5 1253.8,582.5 1256.2,572.5 1258.1,565.0 1265.0,561.2 1272.5,563.8 1277.5,556.2 1282.5,551.2 1287.5,550.6 1288.8,555.0 1285.0,561.2 1282.5,565.0 1283.8,572.5 1282.5,577.5 1287.5,580.0 1285.0,583.8 1280.0,586.2 1277.5,592.5 1272.5,596.2 1270.0,602.5 1268.8,610.0 1267.5,615.0"/>
<polygon points="1272.5,602.5 1277.5,600.0 1282.5,602.5 1285.0,608.8 1281.2,613.8 1276.2,613.8 1272.5,610.0"/>
<polygon points="1291.2,598.8 1296.2,595.0 1301.2,597.5 1305.0,592.5 1310.0,593.8 1311.2,600.0 1308.8,607.5 1305.0,613.8 1300.0,616.2 1295.0,613.8 1292.5,607.5"/>
<polygon points="1288.2,618.5 1294.0,619.8 1294.0,624.0 1288.5,623.2"/>
<polygon points="1338.5,613.8 1344.0,613.0 1345.2,617.8 1339.8,618.4"/>
<polygon points="1195.0,821.9 1202.5,821.2 1210.0,818.8 1216.2,816.2 1220.0,821.2 1225.0,823.8 1230.0,828.8 1235.0,822.5 1238.8,816.2 1242.5,820.0 1248.8,817.5 1252.5,818.8 1258.8,815.0 1266.2,813.8 1275.0,811.2 1286.2,811.2 1290.0,817.5 1297.5,821.2 1306.2,825.0 1306.2,832.5 1308.8,837.5 1306.2,842.5 1307.5,847.5 1297.5,846.2 1287.5,848.8 1282.5,855.0 1280.0,863.8 1277.5,867.5 1280.0,862.5 1285.0,877.5 1295.0,890.0 1307.5,900.0 1315.0,910.0 1325.0,922.5 1340.0,932.5 1355.0,935.0 1350.0,945.0 1360.0,955.0 1375.0,965.0 1385.0,980.0 1382.5,990.0 1375.0,985.0 1365.0,972.5 1355.0,975.0 1350.0,990.0 1360.0,1000.0 1355.0,1015.0 1347.5,1025.0 1337.5,1032.5 1340.0,1017.5 1340.0,1005.0 1332.5,992.5 1322.5,980.0 1312.5,972.5 1300.0,965.0 1295.0,955.0 1285.0,947.5 1275.0,935.0 1265.0,925.0 1255.0,915.0 1247.5,905.0 1245.0,887.5 1235.0,877.5 1222.5,867.5 1210.0,872.5 1200.0,875.0 1198.8,867.5 1193.8,862.5 1190.0,856.2 1192.5,850.0 1187.5,845.0 1186.2,838.8 1191.2,835.0 1193.8,828.8"/>
<polygon points="1270.0,1030.0 1280.0,1026.2 1295.0,1032.5 1312.5,1032.5 1325.0,1026.2 1322.5,1040.0 1317.5,1050.0 1320.0,1062.5 1310.0,1062.5 1297.5,1052.5 1285.0,1045.0 1275.0,1040.0"/>
<polygon points="1197.5,954.5 1210.0,950.0 1219.0,948.0 1223.8,956.2 1220.0,972.5 1218.8,990.0 1207.5,997.5 1197.5,998.8 1195.0,985.0 1198.8,970.0"/>
<polygon points="908.8,815.0 932.5,808.8 950.0,817.5 970.0,825.0 990.0,837.5 1015.0,846.2 1035.0,852.5 1042.5,862.5 1057.5,872.5 1075.0,882.5 1080.0,892.5 1095.0,896.2 1112.5,895.0 1110.0,905.0 1092.5,915.0 1075.0,917.5 1062.5,922.5 1057.5,932.5 1047.5,937.0 1043.8,940.0 1039.5,943.2 1034.0,951.0 1034.0,958.5 1037.2,964.0 1039.5,969.5 1035.2,972.8 1026.5,977.0 1020.0,983.5 1013.2,991.2 1004.8,992.2 996.0,995.5 991.5,1002.0 986.2,1006.5 980.8,1002.0 973.0,1003.2 964.2,998.8 953.5,994.5 942.5,992.2 936.0,993.2 926.2,993.2 919.8,997.8 914.2,1001.0 907.8,991.2 906.8,981.5 903.2,972.8 898.0,965.0 890.0,960.0 895.0,950.0 906.2,942.5 905.0,930.0 912.5,920.0 910.0,907.5 925.0,900.0 927.5,890.0 940.0,882.5 950.0,872.5 945.0,860.0 932.5,855.0 920.0,847.5 912.5,841.2 905.0,842.5 910.0,827.5"/>
<polygon points="905.0,842.5 912.5,841.2 920.0,847.5 932.5,855.0 945.0,860.0 950.0,872.5 940.0,882.5 927.5,890.0 925.0,900.0 910.0,907.5 912.5,920.0 905.0,930.0 906.2,942.5 895.0,950.0 890.0,960.0 877.5,962.5 865.0,955.0 870.0,940.0 875.0,930.0 870.0,915.0 877.5,902.5 887.5,892.5 900.0,875.0 906.2,857.5"/>
<polygon points="1082.5,957.5 1095.0,955.0 1100.0,962.5 1092.5,967.5 1085.0,963.8"/>
<polygon points="1059.5,968.0 1064.5,967.0 1065.5,972.0 1061.2,973.0"/>
<polygon points="1110.0,955.0 1117.0,955.5 1118.0,960.0 1112.0,959.5"/>
<polygon points="1098.9,484.0 1107.3,488.2 1117.8,490.3 1124.1,489.3 1117.8,498.7 1107.3,504.0 1103.1,511.3 1115.7,511.3 1126.2,515.5 1131.4,520.7 1126.2,532.3 1117.8,538.6 1111.5,544.9 1105.2,549.1 1111.5,553.3 1115.7,559.5 1107.3,565.8 1096.8,572.1 1088.4,578.4 1080.0,577.4 1073.7,574.2 1069.5,576.3 1069.5,570.0 1075.8,563.7 1080.0,557.4 1075.8,549.1 1080.0,540.7 1075.8,532.3 1080.0,523.9 1084.2,515.5 1080.0,507.1 1086.3,498.7 1092.6,492.4"/>
<polygon points="1069.5,485.1 1082.1,481.9 1077.9,490.3 1070.6,492.4"/>
<polygon points="1057.0,505.0 1063.3,498.7 1065.8,501.2 1059.5,509.2"/>
<polygon points="1122.4,485.1 1134.1,477.8 1129.5,486.6"/>
<polygon points="1151.3,455.1 1163.9,445.7 1158.1,457.2 1153.9,463.5"/>
<polygon points="1115.7,559.5 1117.8,570.0 1119.9,582.6 1124.1,595.2 1128.3,607.8 1129.3,622.5 1128.3,635.1 1136.7,639.2 1145.1,643.4 1147.1,651.8 1143.0,660.2 1134.6,666.5 1128.3,670.7 1134.6,674.9 1132.5,681.2 1124.1,685.4 1113.6,688.5 1101.0,685.4 1092.6,684.3 1084.2,682.2 1075.8,681.2 1067.4,677.0 1059.1,679.1 1050.7,681.2 1042.3,677.0 1033.9,679.1 1026.6,679.1 1036.0,672.8 1046.5,666.5 1059.1,662.3 1069.5,660.2 1077.9,656.0 1081.1,649.7 1077.9,641.3 1082.1,633.0 1084.2,624.6 1082.1,616.2 1086.3,605.7 1092.6,595.2 1088.4,584.7 1088.4,578.4 1096.8,572.1 1107.3,565.8"/>
<polygon points="1064.3,609.9 1069.5,608.8 1071.6,614.1 1082.1,616.2 1084.2,624.6 1082.1,633.0 1077.9,641.3 1081.1,649.7 1077.9,656.0 1069.5,660.2 1065.4,656.0 1059.1,649.7 1052.8,645.5 1046.5,643.4 1047.5,638.2 1059.1,637.1 1064.3,628.8 1059.1,620.4 1065.4,618.3"/>
<polygon points="996.1,562.7 1008.7,561.6 1021.3,563.7 1027.6,565.8 1029.7,574.2 1038.1,578.4 1042.3,584.7 1044.4,591.0 1040.2,603.6 1036.0,614.1 1029.7,624.6 1021.3,626.7 1010.8,622.5 1002.4,620.4 996.1,626.7 987.8,628.8 977.3,626.7 973.1,620.4 971.0,612.0 979.4,605.7 987.8,597.3 994.0,588.9 989.8,582.6 994.0,570.0"/>
<polygon points="1017.1,556.4 1025.5,551.2 1038.1,549.1 1040.2,552.2 1033.9,557.4 1027.6,560.6 1021.3,563.7"/>
<polygon points="1027.6,565.8 1027.6,560.6 1033.9,557.4 1044.4,556.4 1052.8,557.4 1054.9,565.8 1058.0,574.2 1054.9,580.5 1042.3,584.7 1038.1,578.4 1029.7,574.2"/>
<polygon points="1068.5,588.9 1074.8,583.7 1075.8,586.8 1070.6,592.1"/>
<polygon points="1102.0,398.0 1105.5,394.5 1109.0,397.0 1111.5,395.0 1112.5,398.5 1108.0,400.5 1106.5,405.5 1104.5,401.0"/>
</g>
<g fill="none" stroke="#eef0f6" stroke-opacity="0.9" stroke-width="1.8" stroke-linejoin="round">
<polyline points="1977.0,486.2 1977.0,490.0 1969.5,500.0 1972.0,512.5 1977.0,517.5 1972.0,525.0 1987.0,528.8 2002.0,530.0 2004.5,540.0 1997.0,548.8 1984.5,550.0 1974.5,557.5 1959.5,560.0 1952.0,567.5 1937.0,572.5 1932.0,582.5 1919.5,585.0 1917.0,592.5 1907.0,582.5 1894.5,576.2 1879.5,581.2 1867.0,590.0 1859.5,602.5 1849.5,615.0 1842.0,626.2 1852.0,640.0 1849.5,647.5 1839.5,642.5 1830.8,638.8 1825.8,655.0 1825.8,675.0 1823.2,690.0 1829.5,697.5 1842.0,701.2 1852.0,697.5 1862.0,705.0 1874.5,712.5 1880.8,718.8 1872.0,722.5 1882.0,723.8 1894.5,712.5 1899.5,700.0 1907.0,692.5 1924.5,688.8 1939.5,686.2 1952.0,695.0 1958.2,707.5 1962.0,720.0 1949.5,725.0 1937.0,732.5 1932.0,742.5 1927.0,755.0 1927.0,765.0 1937.0,772.5 1947.0,785.0 1957.0,782.5 1969.5,787.5 1977.0,782.5 1982.0,787.5 1984.5,807.5 1992.0,792.5 2004.5,785.0 2022.0,782.5 2039.5,785.0 2042.0,780.0 2007.0,703.8 2037.0,670.0 2035.8,655.0 2042.0,642.5 2047.0,625.0 2059.5,612.5 2064.5,606.2 2069.5,615.0 2069.5,632.5 2079.5,640.0 2089.5,645.0 2092.0,670.0 2112.0,680.0 2127.0,665.0 2149.5,655.0 2172.0,642.5 2199.5,645.0 2222.0,655.0"/>
</g>
<polygon points="1499.5,510.5 1503.5,507.5 1505.5,517.0 1509.0,525.0 1507.0,530.5 1502.5,523.0" fill="#8d9bbd" stroke="#eef0f5" stroke-width="1.2"/>
<polygon points="1522.5,450.0 1530.0,442.5 1545.0,450.0 1557.5,457.5 1557.5,470.0 1547.5,475.0 1542.5,482.5 1537.5,472.5 1527.5,465.0" fill="#b9b9be" stroke="#eef0f5" stroke-width="1.2"/>
<polygon points="1568.8,413.8 1576.2,411.2 1583.8,426.2 1593.0,438.8 1590.0,448.0 1580.0,440.0 1572.5,427.5" fill="#94949a" stroke="#eef0f5" stroke-width="1.2"/>
<polygon points="1317.5,520.0 1325.0,512.5 1332.5,512.5 1332.5,522.5 1325.0,532.5 1317.5,532.5" fill="#d8d8dc" stroke="#eef0f5" stroke-width="1.2"/>
<polygon points="1337.5,542.5 1342.5,525.0 1346.2,527.5 1340.0,545.0" fill="#d8d8dc" stroke="#eef0f5" stroke-width="1.2"/>
<g fill="none" stroke="#e4e3e6" stroke-width="2.2" stroke-dasharray="4 3 2 4 6 3" stroke-linejoin="round">
<polyline points="1334.5,305.0 1340.0,299.5 1347.5,295.5 1353.8,290.0 1362.0,285.0 1369.0,280.0 1375.0,276.0"/>
<polyline points="1237.5,437.5 1250.0,426.2 1265.5,415.0 1282.5,406.2 1298.8,400.0"/>
<polyline points="1310.0,375.0 1317.5,366.2 1328.8,357.5 1336.2,340.0 1340.0,327.5"/>
<polyline points="1383.8,253.8 1397.5,244.5 1412.5,235.0 1426.2,227.5 1438.8,222.5 1453.8,215.5"/>
<polyline points="1229.5,485.0 1228.0,500.0 1230.0,515.0 1234.0,526.2"/>
</g>
<g fill="none" stroke="#ecebee" stroke-width="1.2" stroke-linecap="round">
<path d="M1447 413 l-1.5 -2.2 l-2 1.2"/>
<path d="M1453 418 l2.2 2.6 l1.5 1.2"/>
<path d="M1459 415 l2.2 -2.2 l-2 1.2"/>
<path d="M1464 421 l-1.5 2.6 l1.5 1.2"/>
<path d="M1470 417 l2.2 -2.2 l-2 1.2"/>
<path d="M1476 424 l2.2 2.6 l1.5 1.2"/>
<path d="M1482 419 l-1.5 -2.2 l-2 1.2"/>
<path d="M1488 426 l2.2 2.6 l1.5 1.2"/>
<path d="M1456 428 l2.2 -2.2 l-2 1.2"/>
<path d="M1462 433 l-1.5 2.6 l1.5 1.2"/>
<path d="M1469 430 l2.2 -2.2 l-2 1.2"/>
<path d="M1475 437 l2.2 2.6 l1.5 1.2"/>
<path d="M1481 432 l-1.5 -2.2 l-2 1.2"/>
<path d="M1487 439 l2.2 2.6 l1.5 1.2"/>
<path d="M1493 434 l2.2 -2.2 l-2 1.2"/>
<path d="M1450 440 l-1.5 2.6 l1.5 1.2"/>
<path d="M1458 445 l2.2 -2.2 l-2 1.2"/>
<path d="M1466 442 l2.2 2.6 l1.5 1.2"/>
<path d="M1472 448 l-1.5 -2.2 l-2 1.2"/>
<path d="M1480 446 l2.2 2.6 l1.5 1.2"/>
<path d="M1486 452 l2.2 -2.2 l-2 1.2"/>
<path d="M1492 447 l-1.5 2.6 l1.5 1.2"/>
<path d="M1497 441 l2.2 -2.2 l-2 1.2"/>
<path d="M1500 430 l2.2 2.6 l1.5 1.2"/>
<path d="M1496 420 l-1.5 -2.2 l-2 1.2"/>
<path d="M1478 405 l2.2 2.6 l1.5 1.2"/>
<path d="M1486 398 l2.2 -2.2 l-2 1.2"/>
<path d="M1468 385 l-1.5 2.6 l1.5 1.2"/>
<path d="M1508 392 l2.2 -2.2 l-2 1.2"/>
<path d="M1514 400 l2.2 2.6 l1.5 1.2"/>
<path d="M1520 410 l-1.5 -2.2 l-2 1.2"/>
<path d="M1526 398 l2.2 2.6 l1.5 1.2"/>
<path d="M1532 420 l2.2 -2.2 l-2 1.2"/>
<path d="M1540 428 l-1.5 2.6 l1.5 1.2"/>
<path d="M1548 405 l2.2 -2.2 l-2 1.2"/>
<path d="M1556 440 l2.2 2.6 l1.5 1.2"/>
<path d="M1600 455 l-1.5 -2.2 l-2 1.2"/>
<path d="M1608 470 l2.2 2.6 l1.5 1.2"/>
<path d="M1616 448 l2.2 -2.2 l-2 1.2"/>
<path d="M1590 430 l-1.5 2.6 l1.5 1.2"/>
<path d="M1346 418 l2.2 -2.2 l-2 1.2"/>
<path d="M1343 446 l2.2 2.6 l1.5 1.2"/>
<path d="M1332 436 l-1.5 -2.2 l-2 1.2"/>
<path d="M1394 474 l2.2 2.6 l1.5 1.2"/>
<path d="M1402 478 l2.2 -2.2 l-2 1.2"/>
</g>
<g fill="#8a8583" stroke="#f4f4f6" stroke-width="1.1">
<circle cx="1493" cy="1048" r="1.7"/>
<circle cx="1497" cy="1055" r="1.7"/>
<circle cx="1502" cy="1050" r="1.7"/>
<circle cx="1506" cy="1058" r="1.7"/>
<circle cx="1511" cy="1052" r="1.7"/>
<circle cx="1515" cy="1060" r="1.7"/>
<circle cx="1500" cy="1062" r="1.7"/>
<circle cx="1507" cy="1066" r="1.7"/>
<circle cx="1513" cy="1068" r="1.7"/>
<circle cx="1519" cy="1064" r="1.7"/>
<circle cx="1496" cy="1068" r="1.7"/>
<circle cx="1503" cy="1072" r="1.7"/>
<circle cx="1510" cy="1074" r="1.7"/>
<circle cx="1522" cy="1056" r="1.7"/>
<circle cx="1526" cy="1062" r="1.7"/>
<circle cx="1490" cy="1040" r="1.7"/>
<circle cx="1498" cy="1038" r="1.7"/>
<circle cx="1512" cy="1040" r="1.7"/>
<circle cx="1518" cy="1046" r="1.7"/>
<circle cx="1524" cy="1070" r="1.7"/>
<circle cx="1489" cy="1014" r="1.7"/>
<circle cx="1496" cy="1008" r="1.7"/>
<circle cx="1515" cy="1012" r="1.7"/>
<circle cx="1508" cy="1020" r="1.7"/>
<circle cx="1516" cy="1028" r="1.7"/>
<circle cx="1531" cy="1074" r="1.7"/>
<circle cx="1544" cy="1066" r="1.7"/>
<circle cx="1553" cy="1058" r="1.7"/>
</g>
<g font-size="14.6" fill="#f1f1f4" text-anchor="middle" filter="url(#txtsh)">
<text x="1028.7" y="292.3" textLength="20.4" lengthAdjust="spacingAndGlyphs">ISL</text>
<text x="1273.0" y="482.3" textLength="30.2" lengthAdjust="spacingAndGlyphs">NOR</text>
<text x="1346.0" y="459.8" textLength="30.9" lengthAdjust="spacingAndGlyphs">SWE</text>
<text x="1468.0" y="351.3" textLength="21.9" lengthAdjust="spacingAndGlyphs">FIN</text>
<text x="1722.5" y="536.3" textLength="28.7" lengthAdjust="spacingAndGlyphs">RUS</text>
<text x="1989.5" y="614.8" textLength="26.4" lengthAdjust="spacingAndGlyphs">KAZ</text>
<text x="1473.7" y="527.8" textLength="26.4" lengthAdjust="spacingAndGlyphs">EST</text>
<text x="1493.7" y="574.8" textLength="23.7" lengthAdjust="spacingAndGlyphs">LVA</text>
<text x="1468.7" y="615.8" textLength="24.6" lengthAdjust="spacingAndGlyphs">LTU</text>
<text x="1520.7" y="662.8" textLength="26.4" lengthAdjust="spacingAndGlyphs">BLR</text>
<text x="1399.0" y="696.0" textLength="27.2" lengthAdjust="spacingAndGlyphs">POL</text>
<text x="1270.0" y="705.3" textLength="29.4" lengthAdjust="spacingAndGlyphs">GER</text>
<text x="1174.0" y="709.8" textLength="25.7" lengthAdjust="spacingAndGlyphs">BEL</text>
<text x="1333.0" y="750.8" textLength="27.2" lengthAdjust="spacingAndGlyphs">CZE</text>
<text x="1397.5" y="777.3" textLength="27.2" lengthAdjust="spacingAndGlyphs">SVK</text>
<text x="1125.0" y="796.3" textLength="27.2" lengthAdjust="spacingAndGlyphs">FRA</text>
<text x="1103.0" y="654.0" textLength="29.4" lengthAdjust="spacingAndGlyphs">ENG</text>
<text x="1097.5" y="539.8" textLength="29.4" lengthAdjust="spacingAndGlyphs">SCO</text>
<text x="1013.7" y="610.3" textLength="21.1" lengthAdjust="spacingAndGlyphs">IRL</text>
<text x="1564.5" y="754.3" textLength="28.7" lengthAdjust="spacingAndGlyphs">UKR</text>
<text x="1551.0" y="797.8" textLength="30.2" lengthAdjust="spacingAndGlyphs">MDA</text>
<text x="1495.7" y="841.3" textLength="30.2" lengthAdjust="spacingAndGlyphs">ROU</text>
<text x="1401.0" y="826.0" textLength="29.4" lengthAdjust="spacingAndGlyphs">HUN</text>
<text x="1332.5" y="807.8" textLength="27.2" lengthAdjust="spacingAndGlyphs">AUT</text>
<text x="1222.5" y="809.8" textLength="22.6" lengthAdjust="spacingAndGlyphs">SUI</text>
<text x="1250.7" y="865.3" textLength="20.1" lengthAdjust="spacingAndGlyphs">ITA</text>
<text x="1321.0" y="843.3" textLength="27.9" lengthAdjust="spacingAndGlyphs">SVN</text>
<text x="1353.7" y="853.3" textLength="30.2" lengthAdjust="spacingAndGlyphs">CRO</text>
<text x="1372.5" y="886.3" textLength="22.6" lengthAdjust="spacingAndGlyphs">BIH</text>
<text x="1425.7" y="886.3" textLength="27.9" lengthAdjust="spacingAndGlyphs">SRB</text>
<text x="1500.0" y="929.3" textLength="26.4" lengthAdjust="spacingAndGlyphs">BUL</text>
<text x="1450.0" y="952.3" textLength="30.2" lengthAdjust="spacingAndGlyphs">MKD</text>
<text x="1415.5" y="977.8" textLength="25.7" lengthAdjust="spacingAndGlyphs">ALB</text>
<text x="1440.0" y="1005.3" textLength="29.4" lengthAdjust="spacingAndGlyphs">GRE</text>
<text x="1717.0" y="980.3" textLength="27.9" lengthAdjust="spacingAndGlyphs">TUR</text>
<text x="1822.5" y="869.3" textLength="30.2" lengthAdjust="spacingAndGlyphs">GEO</text>
<text x="1920.0" y="880.3" textLength="26.4" lengthAdjust="spacingAndGlyphs">AZE</text>
<text x="1863.0" y="910.3" textLength="30.2" lengthAdjust="spacingAndGlyphs">ARM</text>
<text x="917.0" y="880.3" textLength="29.4" lengthAdjust="spacingAndGlyphs">POR</text>
<text x="977.5" y="928.3" textLength="27.2" lengthAdjust="spacingAndGlyphs">ESP</text>
</g>
<g filter="url(#lblshadow)">
<rect x="1089.0" y="426.0" width="38.5" height="18.0" fill="#645c58" stroke="#d2cfd2" stroke-width="1.4"/>
<rect x="1019.0" y="527.0" width="36.0" height="18.0" fill="#645c58" stroke="#d2cfd2" stroke-width="1.4"/>
<rect x="1004.0" y="643.4" width="37.0" height="18.9" fill="#645c58" stroke="#d2cfd2" stroke-width="1.4"/>
<rect x="1175.5" y="622.5" width="37.5" height="18.8" fill="#645c58" stroke="#d2cfd2" stroke-width="1.4"/>
<rect x="1210.7" y="575.0" width="37.3" height="18.7" fill="#645c58" stroke="#d2cfd2" stroke-width="1.4"/>
<rect x="1209.5" y="720.0" width="38.5" height="18.7" fill="#baa2c5" stroke="#d2cfd2" stroke-width="1.4"/>
<rect x="1228.7" y="752.5" width="38.8" height="18.5" fill="#ddd4d2" stroke="#d2cfd2" stroke-width="1.4"/>
<rect x="1117.5" y="912.5" width="38.0" height="18.5" fill="#5ba6d7" stroke="#d2cfd2" stroke-width="1.4"/>
<rect x="918.7" y="1018.7" width="38.3" height="18.8" fill="#ddd4d2" stroke="#d2cfd2" stroke-width="1.4"/>
<rect x="1310.7" y="904.5" width="38.0" height="18.0" fill="#baa2c5" stroke="#d2cfd2" stroke-width="1.4"/>
<rect x="1354.5" y="932.5" width="38.0" height="18.5" fill="#653a6c" stroke="#d2cfd2" stroke-width="1.4"/>
<rect x="1419.5" y="906.0" width="38.0" height="18.0" fill="#653a6c" stroke="#d2cfd2" stroke-width="1.4"/>
<rect x="1256.0" y="1097.0" width="39.0" height="18.0" fill="#baa2c5" stroke="#d2cfd2" stroke-width="1.4"/>
<rect x="1626.0" y="1105.0" width="39.0" height="20.0" fill="#645c58" stroke="#d2cfd2" stroke-width="1.4"/>
<rect x="1660.0" y="1165.0" width="37.5" height="18.7" fill="#baa2c5" stroke="#d2cfd2" stroke-width="1.4"/>
</g>
<g font-size="14.6" text-anchor="middle">
<text x="1108.2" y="440.3" fill="#fff" textLength="28.7" lengthAdjust="spacingAndGlyphs">FRO</text>
<text x="1037.0" y="541.3" fill="#fff" textLength="23.4" lengthAdjust="spacingAndGlyphs">NIR</text>
<text x="1022.5" y="658.1" fill="#fff" textLength="28.9" lengthAdjust="spacingAndGlyphs">WAL</text>
<text x="1194.2" y="637.2" fill="#fff" textLength="28.7" lengthAdjust="spacingAndGlyphs">NED</text>
<text x="1229.3" y="589.6" fill="#fff" textLength="28.7" lengthAdjust="spacingAndGlyphs">DEN</text>
<text x="1228.8" y="734.6" fill="#fff" textLength="26.4" lengthAdjust="spacingAndGlyphs">LUX</text>
<text x="1248.1" y="767.0" fill="#f6f1f0" textLength="20.4" lengthAdjust="spacingAndGlyphs">LIE</text>
<text x="1136.5" y="927.0" fill="#fff" textLength="28.7" lengthAdjust="spacingAndGlyphs">AND</text>
<text x="937.9" y="1033.4" fill="#f6f1f0" textLength="23.4" lengthAdjust="spacingAndGlyphs">GIB</text>
<text x="1329.7" y="918.8" fill="#fff" textLength="30.2" lengthAdjust="spacingAndGlyphs">SMR</text>
<text x="1373.5" y="947.0" fill="#fff" textLength="30.2" lengthAdjust="spacingAndGlyphs">MNE</text>
<text x="1438.5" y="920.3" fill="#fff" textLength="28.7" lengthAdjust="spacingAndGlyphs">KOS</text>
<text x="1275.5" y="1111.3" fill="#fff" textLength="26.1" lengthAdjust="spacingAndGlyphs">MLT</text>
<text x="1645.5" y="1120.3" fill="#fff" textLength="27.9" lengthAdjust="spacingAndGlyphs">CYP</text>
<text x="1678.8" y="1179.6" fill="#fff" textLength="22.6" lengthAdjust="spacingAndGlyphs">ISR</text>
</g>
</svg></body></html>
